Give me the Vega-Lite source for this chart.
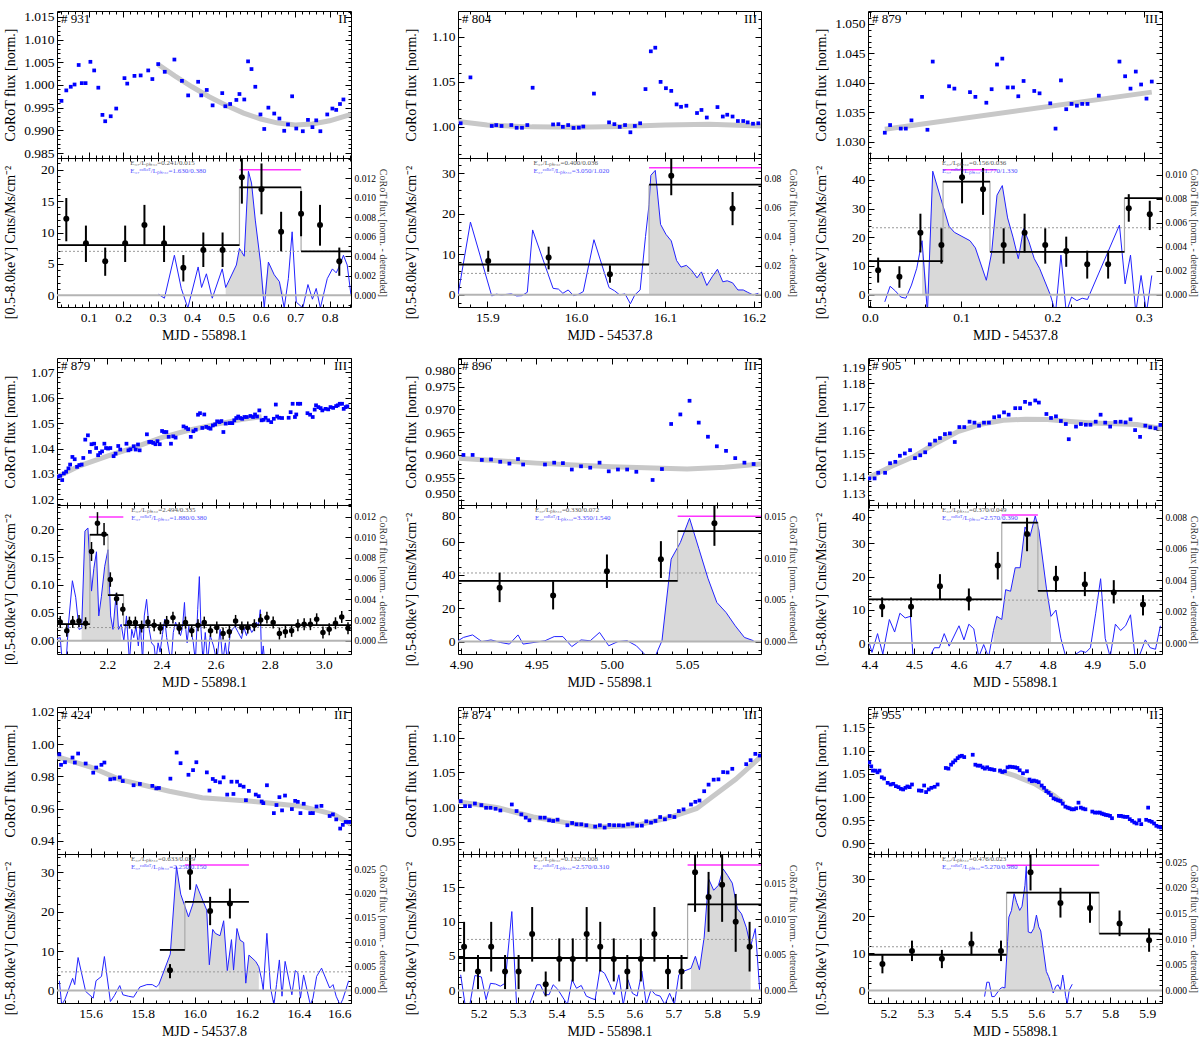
{
"$schema": "https://vega.github.io/schema/vega-lite/v6.json",
"background": "white",
"padding": {"left": 2, "top": 9, "right": 0, "bottom": 0},
"config": {
 "font": "Liberation Serif",
 "view": {"stroke": "black", "strokeWidth": 1},
 "axis": {"labelFont": "Liberation Serif", "titleFont": "Liberation Serif", "labelFontSize": 13.5, "titleFontSize": 14, "titleFontWeight": "normal", "labelColor": "black", "titleColor": "black", "tickColor": "black", "domain": false, "grid": false, "tickSize": 6, "offset": -6, "labelPadding": 3, "labelOverlap": false},
 "text": {"font": "Liberation Serif"}
},
"datasets": {
 "m1": [{"id": "# 931", "cls": "II", "dot": 7.0, "mx": 0.538, "mx2": 0.717, "my": 20.0, "a1": "E₃₇/Lₚₖ,₃₂=0.241/0.015", "a2": "E₃₇ᶜᵒᴿᵒᵀ/Lₚₖ,₃₂=1.630/0.380"}],
 "m2": [{"id": "# 804", "cls": "III", "dot": 5.3, "mx": 16.082, "mx2": 16.208, "my": 31.4, "a1": "E₃₇/Lₚₖ,₃₂=0.400/0.036", "a2": "E₃₇ᶜᵒᴿᵒᵀ/Lₚₖ,₃₂=3.050/1.020"}],
 "m3": [{"id": "# 879", "cls": "III", "dot": 23.3, "mx": 0.0802, "mx2": 0.139, "my": 43.5, "a1": "E₃₇/Lₚₖ,₃₂=0.156/0.036", "a2": "E₃₇ᶜᵒᴿᵒᵀ/Lₚₖ,₃₂=1.770/1.330"}],
 "m4": [{"id": "# 879", "cls": "III", "dot": 0.0237, "mx": 2.132, "mx2": 2.259, "my": 0.222, "a1": "E₃₇/Lₚₖ,₃₂=2.494/0.335", "a2": "E₃₇ᶜᵒᴿᵒᵀ/Lₚₖ,₃₂=1.880/0.380"}],
 "m5": [{"id": "# 896", "cls": "III", "dot": 41.2, "mx": 5.0437, "mx2": 5.099, "my": 75.2, "a1": "E₃₇/Lₚₖ,₃₂=0.330/0.072", "a2": "E₃₇ᶜᵒᴿᵒᵀ/Lₚₖ,₃₂=3.350/1.540"}],
 "m6": [{"id": "# 905", "cls": "II", "dot": 12.9, "mx": 4.6968, "mx2": 4.7778, "my": 38.5, "a1": "E₃₇/Lₚₖ,₃₂=0.370/0.049", "a2": "E₃₇ᶜᵒᴿᵒᵀ/Lₚₖ,₃₂=2.570/0.390"}],
 "m7": [{"id": "# 424", "cls": "III", "dot": 4.72, "mx": 15.962, "mx2": 16.208, "my": 31.9, "a1": "E₃₇/Lₚₖ,₃₂=0.633/0.029", "a2": "E₃₇ᶜᵒᴿᵒᵀ/Lₚₖ,₃₂=2.250/0.150"}],
 "m8": [{"id": "# 874", "cls": "III", "dot": 7.4, "mx": 5.7365, "mx2": 5.925, "my": 18.2, "a1": "E₃₇/Lₚₖ,₃₂=0.132/0.008", "a2": "E₃₇ᶜᵒᴿᵒᵀ/Lₚₖ,₃₂=2.570/0.310"}],
 "m9": [{"id": "# 955", "cls": "II", "dot": 11.75, "mx": 5.5197, "mx2": 5.7702, "my": 33.7, "a1": "E₃₇/Lₚₖ,₃₂=0.476/0.023", "a2": "E₃₇ᶜᵒᴿᵒᵀ/Lₚₖ,₃₂=5.270/0.980"}],

 "f1": [{"x":0.021,"y":0.9965},{"x":0.035,"y":0.9988},{"x":0.048,"y":0.9996},{"x":0.059,"y":1.0001},{"x":0.071,"y":1.0044},{"x":0.080,"y":1.0004},{"x":0.091,"y":1.0004},{"x":0.105,"y":1.0051},{"x":0.116,"y":1.0032},{"x":0.128,"y":0.9994},{"x":0.140,"y":0.9934},{"x":0.148,"y":0.9920},{"x":0.164,"y":0.9931},{"x":0.180,"y":0.9948},{"x":0.204,"y":1.0015},{"x":0.212,"y":1.0003},{"x":0.233,"y":1.0020},{"x":0.251,"y":1.0021},{"x":0.273,"y":1.0032},{"x":0.285,"y":1.0013},{"x":0.302,"y":1.0046},{"x":0.321,"y":1.0029},{"x":0.349,"y":1.0056},{"x":0.371,"y":1.0009},{"x":0.389,"y":0.9977},{"x":0.418,"y":1.0007},{"x":0.427,"y":0.9977},{"x":0.443,"y":0.9989},{"x":0.460,"y":0.9955},{"x":0.488,"y":0.9982},{"x":0.497,"y":0.9953},{"x":0.511,"y":0.9958},{"x":0.529,"y":0.9967},{"x":0.538,"y":0.9980},{"x":0.552,"y":0.9968},{"x":0.563,"y":1.0052},{"x":0.573,"y":1.0035},{"x":0.584,"y":0.9996},{"x":0.599,"y":0.9935},{"x":0.610,"y":0.9903},{"x":0.622,"y":0.9950},{"x":0.639,"y":0.9937},{"x":0.654,"y":0.9926},{"x":0.668,"y":0.9899},{"x":0.679,"y":0.9913},{"x":0.691,"y":0.9975},{"x":0.703,"y":0.9904},{"x":0.722,"y":0.9898},{"x":0.737,"y":0.9923},{"x":0.750,"y":0.9907},{"x":0.761,"y":0.9922},{"x":0.773,"y":0.9898},{"x":0.793,"y":0.9935},{"x":0.808,"y":0.9948},{"x":0.819,"y":0.9945},{"x":0.830,"y":0.9958},{"x":0.840,"y":0.9968}],
 "t1": [{"x":0.302,"y":1.0045},{"x":0.35,"y":1.0020},{"x":0.40,"y":0.9996},{"x":0.45,"y":0.9974},{"x":0.50,"y":0.9955},{"x":0.55,"y":0.9938},{"x":0.60,"y":0.9925},{"x":0.65,"y":0.9916},{"x":0.70,"y":0.9912},{"x":0.75,"y":0.9914},{"x":0.80,"y":0.9921},{"x":0.862,"y":0.9935}],
 "e1": [{"x":0.035,"y":12.2,"lo":8.6,"hi":15.5},{"x":0.092,"y":8.3,"lo":5.3,"hi":11.1},{"x":0.148,"y":5.4,"lo":3.1,"hi":7.6},{"x":0.206,"y":8.3,"lo":5.3,"hi":11.1},{"x":0.262,"y":11.2,"lo":7.9,"hi":14.4},{"x":0.319,"y":8.3,"lo":5.3,"hi":11.1},{"x":0.375,"y":4.4,"lo":2.2,"hi":6.4},{"x":0.433,"y":7.2,"lo":4.5,"hi":10.0},{"x":0.489,"y":7.2,"lo":4.5,"hi":10.0},{"x":0.545,"y":18.8,"lo":14.6,"hi":21.9},{"x":0.602,"y":16.9,"lo":12.9,"hi":21.0},{"x":0.659,"y":10.1,"lo":7.0,"hi":13.3},{"x":0.717,"y":13.0,"lo":9.4,"hi":16.6},{"x":0.772,"y":11.2,"lo":7.9,"hi":14.4},{"x":0.828,"y":5.4,"lo":3.1,"hi":7.6}],
 "b1": [{"x":0.008,"x2":0.538,"y":8.0},{"x":0.538,"x2":0.717,"y":17.2},{"x":0.717,"x2":0.862,"y":7.0}],
 "c1": [{"x":0.303,"v":0.0001},{"x":0.320,"v":-0.0003},{"x":0.349,"v":0.0041},{"x":0.369,"v":0.0007},{"x":0.388,"v":-0.0013},{"x":0.418,"v":0.0029},{"x":0.428,"v":0.0008},{"x":0.442,"v":0.0022},{"x":0.459,"v":-0.0003},{"x":0.488,"v":0.0027},{"x":0.498,"v":0.0008,"f":0.0008},{"x":0.529,"v":0.0031,"f":0.0031},{"x":0.538,"v":0.0048,"f":0.0048},{"x":0.552,"v":0.0040,"f":0.0040},{"x":0.564,"v":0.0127,"f":0.0127},{"x":0.573,"v":0.0115,"f":0.0115},{"x":0.584,"v":0.0077,"f":0.0077},{"x":0.599,"v":0.0034,"f":0.0034},{"x":0.610,"v":-0.0013,"f":0},{"x":0.622,"v":0.0034,"f":0.0034},{"x":0.639,"v":0.0021,"f":0.0021},{"x":0.654,"v":0.0014,"f":0.0014},{"x":0.668,"v":-0.0013,"f":0},{"x":0.680,"v":0.0017},{"x":0.691,"v":0.0065},{"x":0.703,"v":-0.0007},{"x":0.722,"v":-0.0013},{"x":0.737,"v":0.0011},{"x":0.750,"v":-0.0004},{"x":0.761,"v":0.0007},{"x":0.773,"v":-0.0013},{"x":0.793,"v":0.0017},{"x":0.808,"v":0.0027},{"x":0.819,"v":0.0023},{"x":0.830,"v":0.0031},{"x":0.840,"v":0.0041},{"x":0.851,"v":0.0031},{"x":0.862,"v":0.0}],

 "f2": [{"x":15.870,"y":1.004},{"x":15.881,"y":1.055},{"x":15.905,"y":1.001},{"x":15.910,"y":1.002},{"x":15.916,"y":1.001},{"x":15.927,"y":1.002},{"x":15.933,"y":0.999},{"x":15.939,"y":0.999},{"x":15.945,"y":1.002},{"x":15.951,"y":1.0435},{"x":15.974,"y":1.0027},{"x":15.980,"y":1.003},{"x":15.985,"y":1.000},{"x":15.991,"y":1.002},{"x":15.997,"y":0.9988},{"x":16.003,"y":0.9992},{"x":16.008,"y":1.0004},{"x":16.020,"y":1.037},{"x":16.037,"y":1.005},{"x":16.043,"y":1.003},{"x":16.049,"y":1.000},{"x":16.055,"y":1.002},{"x":16.061,"y":0.994},{"x":16.066,"y":1.001},{"x":16.072,"y":1.004},{"x":16.078,"y":1.042},{"x":16.084,"y":1.084},{"x":16.089,"y":1.088},{"x":16.095,"y":1.050},{"x":16.101,"y":1.043},{"x":16.107,"y":1.040},{"x":16.113,"y":1.025},{"x":16.118,"y":1.0223},{"x":16.124,"y":1.0235},{"x":16.136,"y":1.0154},{"x":16.141,"y":1.0188},{"x":16.147,"y":1.0104},{"x":16.159,"y":1.022},{"x":16.165,"y":1.0115},{"x":16.170,"y":1.0135},{"x":16.176,"y":1.0115},{"x":16.182,"y":1.0065},{"x":16.188,"y":1.0065},{"x":16.193,"y":1.005},{"x":16.199,"y":1.0035},{"x":16.205,"y":1.004}],
 "t2": [{"x":15.867,"y":1.006},{"x":15.90,"y":1.002},{"x":15.95,"y":1.0},{"x":16.0,"y":0.9995},{"x":16.05,"y":1.0005},{"x":16.1,"y":1.002},{"x":16.15,"y":1.003},{"x":16.208,"y":1.001}],
 "e2": [{"x":15.901,"y":8.35,"lo":5.7,"hi":10.9},{"x":15.969,"y":9.2,"lo":6.3,"hi":11.9},{"x":16.038,"y":5.1,"lo":3.0,"hi":7.3},{"x":16.107,"y":29.4,"lo":24.6,"hi":33.8},{"x":16.176,"y":21.3,"lo":17.2,"hi":25.4}],
 "b2": [{"x":15.867,"x2":16.082,"y":7.5},{"x":16.082,"x2":16.208,"y":27.2}],
 "c2": [{"x":15.867,"v":0},{"x":15.881,"v":0.050},{"x":15.905,"v":-0.0007},{"x":15.910,"v":0.0005},{"x":15.916,"v":0},{"x":15.927,"v":0.0007},{"x":15.933,"v":-0.0007},{"x":15.939,"v":-0.0005},{"x":15.945,"v":0.0018},{"x":15.951,"v":0.0446},{"x":15.974,"v":0.0045},{"x":15.980,"v":0.004},{"x":15.985,"v":0.0011},{"x":15.991,"v":0.0034},{"x":15.997,"v":-0.0005},{"x":16.003,"v":0.0005},{"x":16.008,"v":0.0023},{"x":16.020,"v":0.0379},{"x":16.037,"v":0.005},{"x":16.043,"v":0.0029},{"x":16.049,"v":0},{"x":16.055,"v":0.0007},{"x":16.061,"v":-0.0061},{"x":16.066,"v":0},{"x":16.072,"v":0.0034},{"x":16.078,"v":0.040},{"x":16.082,"v":0.062,"f":0.062},{"x":16.084,"v":0.0821,"f":0.0821},{"x":16.089,"v":0.0855,"f":0.0855},{"x":16.095,"v":0.0484,"f":0.0484},{"x":16.101,"v":0.0416,"f":0.0416},{"x":16.107,"v":0.0371,"f":0.0371},{"x":16.113,"v":0.0236,"f":0.0236},{"x":16.118,"v":0.0191,"f":0.0191},{"x":16.124,"v":0.0203,"f":0.0203},{"x":16.130,"v":0.0169,"f":0.0169},{"x":16.136,"v":0.0117,"f":0.0117},{"x":16.141,"v":0.0158,"f":0.0158},{"x":16.147,"v":0.0065,"f":0.0065},{"x":16.153,"v":0.0124,"f":0.0124},{"x":16.159,"v":0.0176,"f":0.0176},{"x":16.165,"v":0.009,"f":0.009},{"x":16.170,"v":0.0097,"f":0.0097},{"x":16.176,"v":0.0083,"f":0.0083},{"x":16.182,"v":0.0034,"f":0.0034},{"x":16.188,"v":0.0034,"f":0.0034},{"x":16.193,"v":0.0018,"f":0.0018},{"x":16.199,"v":0,"f":0},{"x":16.205,"v":0.0011,"f":0.0011}],

 "f3": [{"x":0.0164,"y":1.0315},{"x":0.0222,"y":1.0328},{"x":0.0339,"y":1.0322},{"x":0.0394,"y":1.0322},{"x":0.0456,"y":1.0336},{"x":0.0572,"y":1.0376},{"x":0.0631,"y":1.0320},{"x":0.0689,"y":1.0436},{"x":0.0868,"y":1.0394},{"x":0.0926,"y":1.0390},{"x":0.1097,"y":1.0384},{"x":0.1156,"y":1.0376},{"x":0.1276,"y":1.0366},{"x":0.1334,"y":1.0389},{"x":0.1393,"y":1.0431},{"x":0.1451,"y":1.0441},{"x":0.1509,"y":1.0392},{"x":0.1568,"y":1.0392},{"x":0.1626,"y":1.0377},{"x":0.1684,"y":1.0403},{"x":0.1801,"y":1.0386},{"x":0.1859,"y":1.0382},{"x":0.1976,"y":1.0365},{"x":0.2034,"y":1.0322},{"x":0.2093,"y":1.0404},{"x":0.2151,"y":1.0355},{"x":0.2209,"y":1.0364},{"x":0.2268,"y":1.0361},{"x":0.2326,"y":1.0364},{"x":0.2384,"y":1.0364},{"x":0.2508,"y":1.0378},{"x":0.2734,"y":1.0436},{"x":0.2796,"y":1.0411},{"x":0.2855,"y":1.0390},{"x":0.2913,"y":1.0419},{"x":0.2971,"y":1.0397},{"x":0.3030,"y":1.0373},{"x":0.3088,"y":1.0402}],
 "t3": [{"x":0.0164,"y":1.0321},{"x":0.3088,"y":1.0384}],
 "e3": [{"x":0.0091,"y":8.5,"lo":4.2,"hi":12.9},{"x":0.0324,"y":6.2,"lo":2.4,"hi":9.9},{"x":0.0554,"y":21.6,"lo":14.7,"hi":28.2},{"x":0.0784,"y":17.3,"lo":10.8,"hi":23.1},{"x":0.1010,"y":40.9,"lo":31.8,"hi":47.6},{"x":0.1240,"y":36.7,"lo":27.8,"hi":44.1},{"x":0.1466,"y":17.3,"lo":10.8,"hi":23.1},{"x":0.1695,"y":21.6,"lo":14.7,"hi":28.2},{"x":0.1921,"y":17.3,"lo":10.8,"hi":23.1},{"x":0.2151,"y":15.2,"lo":9.7,"hi":20.2},{"x":0.2381,"y":10.6,"lo":5.6,"hi":15.3},{"x":0.2610,"y":10.6,"lo":5.6,"hi":15.3},{"x":0.2836,"y":30.1,"lo":25.4,"hi":35.0},{"x":0.3066,"y":28.0,"lo":22.5,"hi":32.7}],
 "b3": [{"x":-0.002,"x2":0.0802,"y":11.7},{"x":0.0802,"x2":0.1316,"y":39.4},{"x":0.1316,"x2":0.2789,"y":14.9},{"x":0.2789,"x2":0.320,"y":33.6}],
 "c3": [{"x":0.0164,"v":-0.0006},{"x":0.0222,"v":0.0007},{"x":0.0281,"v":0.0003},{"x":0.0339,"v":-0.0002},{"x":0.0394,"v":-0.0003},{"x":0.0456,"v":0.0008},{"x":0.0514,"v":0.0022},{"x":0.0572,"v":0.0045,"f":0.0045},{"x":0.0631,"v":-0.0015,"f":0},{"x":0.0689,"v":0.0103,"f":0.0103},{"x":0.0868,"v":0.0057,"f":0.0057},{"x":0.0926,"v":0.0052,"f":0.0052},{"x":0.1097,"v":0.0045,"f":0.0045},{"x":0.1156,"v":0.0039,"f":0.0039},{"x":0.1276,"v":0.0012,"f":0.0012},{"x":0.1334,"v":0.0035,"f":0.0035},{"x":0.1393,"v":0.0083,"f":0.0083},{"x":0.1451,"v":0.0091,"f":0.0091},{"x":0.1509,"v":0.0064,"f":0.0064},{"x":0.1568,"v":0.0048,"f":0.0048},{"x":0.1626,"v":0.0030,"f":0.0030},{"x":0.1684,"v":0.0055,"f":0.0055},{"x":0.1743,"v":0.0044,"f":0.0044},{"x":0.1801,"v":0.0030,"f":0.0030},{"x":0.1859,"v":0.0022,"f":0.0022},{"x":0.1976,"v":0.0,"f":0},{"x":0.2034,"v":-0.0015},{"x":0.2093,"v":0.0033},{"x":0.2151,"v":-0.0015},{"x":0.2209,"v":-0.0002},{"x":0.2268,"v":-0.0005},{"x":0.2326,"v":-0.0003},{"x":0.2384,"v":-0.0004},{"x":0.2508,"v":0.0018},{"x":0.2734,"v":0.0058},{"x":0.2796,"v":0.0009},{"x":0.2855,"v":0.0033},{"x":0.2913,"v":-0.0015},{"x":0.2971,"v":0.0016},{"x":0.3030,"v":-0.0015},{"x":0.3088,"v":0.0016}],

 "f4": [{"x":2.0173,"y":1.0289},{"x":2.0259,"y":1.0293},{"x":2.0332,"y":1.0276},{"x":2.0393,"y":1.0302},{"x":2.0478,"y":1.0309},{"x":2.0563,"y":1.0322},{"x":2.0624,"y":1.0337},{"x":2.0709,"y":1.0367},{"x":2.0794,"y":1.0358},{"x":2.0880,"y":1.0328},{"x":2.0965,"y":1.0335},{"x":2.1050,"y":1.0337},{"x":2.1111,"y":1.0363},{"x":2.1184,"y":1.0435},{"x":2.1282,"y":1.0452},{"x":2.1355,"y":1.0387},{"x":2.1415,"y":1.0417},{"x":2.1513,"y":1.0419},{"x":2.1586,"y":1.0402},{"x":2.1659,"y":1.0374},{"x":2.1732,"y":1.0383},{"x":2.1805,"y":1.0389},{"x":2.1890,"y":1.0419},{"x":2.1951,"y":1.0402},{"x":2.2024,"y":1.0400},{"x":2.2110,"y":1.0402},{"x":2.2231,"y":1.0370},{"x":2.2304,"y":1.0380},{"x":2.2402,"y":1.0410},{"x":2.2475,"y":1.0396},{"x":2.2706,"y":1.0419},{"x":2.2779,"y":1.0393},{"x":2.2852,"y":1.0397},{"x":2.2974,"y":1.0409},{"x":2.3047,"y":1.0396},{"x":2.3132,"y":1.0416},{"x":2.3193,"y":1.0393},{"x":2.3461,"y":1.0456},{"x":2.3547,"y":1.0426},{"x":2.3620,"y":1.0426},{"x":2.3693,"y":1.0422},{"x":2.3778,"y":1.0417},{"x":2.3851,"y":1.0429},{"x":2.3936,"y":1.0417},{"x":2.4021,"y":1.0469},{"x":2.4094,"y":1.0465},{"x":2.4180,"y":1.0465},{"x":2.4265,"y":1.0446},{"x":2.4350,"y":1.0419},{"x":2.4435,"y":1.0448},{"x":2.4521,"y":1.0443},{"x":2.4813,"y":1.0487},{"x":2.4910,"y":1.0482},{"x":2.4983,"y":1.0476},{"x":2.5081,"y":1.0446},{"x":2.5178,"y":1.0468},{"x":2.5264,"y":1.0474},{"x":2.5349,"y":1.0533},{"x":2.5422,"y":1.0539},{"x":2.5507,"y":1.0481},{"x":2.5580,"y":1.0534},{"x":2.5653,"y":1.0485},{"x":2.5738,"y":1.0481},{"x":2.5811,"y":1.0478},{"x":2.5897,"y":1.0491},{"x":2.5982,"y":1.0495},{"x":2.6055,"y":1.0507},{"x":2.6140,"y":1.0504},{"x":2.6213,"y":1.0508},{"x":2.6286,"y":1.0465},{"x":2.6372,"y":1.0498},{"x":2.6518,"y":1.0500},{"x":2.6615,"y":1.0500},{"x":2.6688,"y":1.0511},{"x":2.6761,"y":1.0520},{"x":2.6834,"y":1.0526},{"x":2.6907,"y":1.0520},{"x":2.6981,"y":1.0517},{"x":2.7066,"y":1.0524},{"x":2.7151,"y":1.0524},{"x":2.7285,"y":1.0528},{"x":2.7382,"y":1.0524},{"x":2.7455,"y":1.0534},{"x":2.7529,"y":1.0526},{"x":2.7614,"y":1.0550},{"x":2.7699,"y":1.0511},{"x":2.7772,"y":1.0513},{"x":2.7845,"y":1.0521},{"x":2.7942,"y":1.0511},{"x":2.8052,"y":1.0504},{"x":2.8149,"y":1.0517},{"x":2.8223,"y":1.0573},{"x":2.8271,"y":1.0526},{"x":2.8344,"y":1.0521},{"x":2.8454,"y":1.0520},{"x":2.8697,"y":1.0521},{"x":2.8770,"y":1.0543},{"x":2.8844,"y":1.0576},{"x":2.8929,"y":1.0524},{"x":2.8978,"y":1.0534},{"x":2.9038,"y":1.0576},{"x":2.9124,"y":1.0576},{"x":2.9392,"y":1.0539},{"x":2.9489,"y":1.0533},{"x":2.9586,"y":1.0524},{"x":2.9659,"y":1.0553},{"x":2.9708,"y":1.0570},{"x":2.9793,"y":1.0563},{"x":2.9879,"y":1.0559},{"x":2.9940,"y":1.0550},{"x":3.0061,"y":1.0556},{"x":3.0159,"y":1.0554},{"x":3.0244,"y":1.0563},{"x":3.0341,"y":1.0560},{"x":3.0451,"y":1.0567},{"x":3.0512,"y":1.0570},{"x":3.0585,"y":1.0576},{"x":3.0670,"y":1.0576},{"x":3.0731,"y":1.0556},{"x":3.0804,"y":1.0563},{"x":3.0865,"y":1.0566}],
 "t4": [{"x":2.017,"y":1.029},{"x":2.1,"y":1.0333},{"x":2.2,"y":1.037},{"x":2.3,"y":1.0405},{"x":2.4,"y":1.0443},{"x":2.5,"y":1.0472},{"x":2.6,"y":1.0495},{"x":2.7,"y":1.0515},{"x":2.77,"y":1.0525}],
 "e4": [{"x":2.0259,"y":0.0338,"lo":0.0231,"hi":0.0445},{"x":2.0502,"y":0.0178,"lo":0.0071,"hi":0.0285},{"x":2.0721,"y":0.0338,"lo":0.0231,"hi":0.0445},{"x":2.0953,"y":0.0356,"lo":0.0249,"hi":0.0463},{"x":2.1196,"y":0.0314,"lo":0.0207,"hi":0.0421},{"x":2.1415,"y":0.160,"lo":0.143,"hi":0.177},{"x":2.1635,"y":0.2105,"lo":0.1905,"hi":0.2305},{"x":2.1878,"y":0.191,"lo":0.171,"hi":0.211},{"x":2.2110,"y":0.1097,"lo":0.0967,"hi":0.1227},{"x":2.2341,"y":0.0753,"lo":0.0643,"hi":0.0863},{"x":2.2572,"y":0.0563,"lo":0.0453,"hi":0.0673},{"x":2.2816,"y":0.0326,"lo":0.0219,"hi":0.0433},{"x":2.3035,"y":0.0326,"lo":0.0219,"hi":0.0433},{"x":2.3266,"y":0.0255,"lo":0.0148,"hi":0.0362},{"x":2.3498,"y":0.0338,"lo":0.0231,"hi":0.0445},{"x":2.3729,"y":0.0279,"lo":0.0172,"hi":0.0386},{"x":2.3961,"y":0.0225,"lo":0.0118,"hi":0.0332},{"x":2.4192,"y":0.0338,"lo":0.0231,"hi":0.0445},{"x":2.4423,"y":0.0415,"lo":0.0308,"hi":0.0522},{"x":2.4655,"y":0.0225,"lo":0.0118,"hi":0.0332},{"x":2.4886,"y":0.0326,"lo":0.0219,"hi":0.0433},{"x":2.5117,"y":0.0178,"lo":0.0071,"hi":0.0285},{"x":2.5349,"y":0.0279,"lo":0.0172,"hi":0.0386},{"x":2.5580,"y":0.0326,"lo":0.0219,"hi":0.0433},{"x":2.5811,"y":0.0178,"lo":0.0071,"hi":0.0285},{"x":2.6043,"y":0.0237,"lo":0.013,"hi":0.0344},{"x":2.6274,"y":0.0130,"lo":0.0023,"hi":0.0237},{"x":2.6506,"y":0.0160,"lo":0.0053,"hi":0.0267},{"x":2.6737,"y":0.0356,"lo":0.0249,"hi":0.0463},{"x":2.6968,"y":0.0237,"lo":0.013,"hi":0.0344},{"x":2.7187,"y":0.0237,"lo":0.013,"hi":0.0344},{"x":2.7431,"y":0.0279,"lo":0.0172,"hi":0.0386},{"x":2.7662,"y":0.0374,"lo":0.0267,"hi":0.0481},{"x":2.7894,"y":0.0415,"lo":0.0308,"hi":0.0522},{"x":2.8125,"y":0.0326,"lo":0.0219,"hi":0.0433},{"x":2.8356,"y":0.0130,"lo":0.0023,"hi":0.0237},{"x":2.8576,"y":0.0160,"lo":0.0053,"hi":0.0267},{"x":2.8807,"y":0.0178,"lo":0.0071,"hi":0.0285},{"x":2.9038,"y":0.0279,"lo":0.0172,"hi":0.0386},{"x":2.9270,"y":0.0297,"lo":0.019,"hi":0.0404},{"x":2.9501,"y":0.0297,"lo":0.019,"hi":0.0404},{"x":2.9732,"y":0.0385,"lo":0.0278,"hi":0.0492},{"x":2.9964,"y":0.0148,"lo":0.0041,"hi":0.0255},{"x":3.0195,"y":0.0208,"lo":0.0101,"hi":0.0315},{"x":3.0427,"y":0.0314,"lo":0.0207,"hi":0.0421},{"x":3.0658,"y":0.0427,"lo":0.032,"hi":0.0534},{"x":3.0889,"y":0.0225,"lo":0.0118,"hi":0.0332}],
 "b4": [{"x":2.014,"x2":2.1355,"y":0.0297},{"x":2.1355,"x2":2.2024,"y":0.190},{"x":2.2024,"x2":2.2597,"y":0.0818},{"x":2.2597,"x2":3.10,"y":0.0279}],
 "c4": [{"x":2.0137,"v":0.0002},{"x":2.0259,"v":0.0003},{"x":2.0332,"v":-0.002},{"x":2.0478,"v":-0.002},{"x":2.0563,"v":0.0016},{"x":2.0709,"v":0.0058},{"x":2.0831,"v":0.0042},{"x":2.0953,"v":0.0011},{"x":2.1050,"v":0.0012,"f":0.0012},{"x":2.1172,"v":0.0106,"f":0.0106},{"x":2.1282,"v":0.0109,"f":0.0109},{"x":2.1355,"v":0.0075,"f":0.0075},{"x":2.1415,"v":0.0048,"f":0.0048},{"x":2.1501,"v":0.0070,"f":0.0070},{"x":2.1598,"v":0.0086,"f":0.0086},{"x":2.1683,"v":0.0024,"f":0.0024},{"x":2.1781,"v":0.0043,"f":0.0043},{"x":2.1903,"v":0.0072,"f":0.0072},{"x":2.2024,"v":0.0088,"f":0.0088},{"x":2.2122,"v":0.0024,"f":0.0024},{"x":2.2207,"v":0.0011,"f":0.0011},{"x":2.2329,"v":0.0046,"f":0.0046},{"x":2.2414,"v":0.0011,"f":0.0011},{"x":2.2511,"v":0.0016,"f":0.0016},{"x":2.2609,"v":0.0},{"x":2.2706,"v":0.0024},{"x":2.2816,"v":-0.002},{"x":2.2901,"v":0.0011},{"x":2.2974,"v":0.0003},{"x":2.3059,"v":0.0014},{"x":2.3145,"v":-0.0005},{"x":2.3218,"v":0.0016},{"x":2.3303,"v":-0.002},{"x":2.3364,"v":0.0024},{"x":2.3449,"v":0.004},{"x":2.3547,"v":0.0011},{"x":2.3632,"v":-0.0002},{"x":2.3729,"v":-0.0005},{"x":2.3790,"v":-0.002},{"x":2.3875,"v":-0.0002},{"x":2.3948,"v":-0.0011},{"x":2.4034,"v":0.0006},{"x":2.4119,"v":0.0021},{"x":2.4192,"v":0.0003},{"x":2.4277,"v":-0.001},{"x":2.4362,"v":-0.002},{"x":2.4435,"v":0.0008},{"x":2.4521,"v":0.0018},{"x":2.4606,"v":0.0011},{"x":2.4703,"v":0.0005},{"x":2.4776,"v":0.0013},{"x":2.4849,"v":0.0037},{"x":2.4898,"v":0.0011},{"x":2.4947,"v":-0.0002},{"x":2.5008,"v":0.0014},{"x":2.5069,"v":0.0011},{"x":2.5166,"v":0},{"x":2.5252,"v":-0.002},{"x":2.5337,"v":0.003},{"x":2.5398,"v":0.0062},{"x":2.5459,"v":0.0011},{"x":2.5532,"v":-0.002},{"x":2.5617,"v":0.0008},{"x":2.5702,"v":-0.002},{"x":2.5799,"v":0.0005},{"x":2.5921,"v":-0.0005},{"x":2.6043,"v":-0.002},{"x":2.6165,"v":0.0011},{"x":2.6262,"v":-0.002},{"x":2.6359,"v":-0.0002},{"x":2.6432,"v":-0.002},{"x":2.6530,"v":0.0005},{"x":2.6615,"v":0.0011},{"x":2.6713,"v":0.0014},{"x":2.6834,"v":0.0008},{"x":2.6956,"v":0.0002},{"x":2.7041,"v":0.0013},{"x":2.7139,"v":0.0005},{"x":2.7236,"v":0.0014},{"x":2.7334,"v":0.0008},{"x":2.7407,"v":0.0011},{"x":2.7504,"v":0.0018},{"x":2.7577,"v":0.0014},{"x":2.7650,"v":0.003},{"x":2.7699,"v":-0.002},{"x":2.7760,"v":-0.0005},{"x":2.7809,"v":-0.002}],

 "f5": [{"x":4.9016,"y":0.960},{"x":4.9077,"y":0.960},{"x":4.9138,"y":0.9589},{"x":4.9199,"y":0.9590},{"x":4.9260,"y":0.9585},{"x":4.9321,"y":0.9581},{"x":4.9378,"y":0.9591},{"x":4.9412,"y":0.9579},{"x":4.9557,"y":0.9579},{"x":4.9618,"y":0.9583},{"x":4.9676,"y":0.9582},{"x":4.9735,"y":0.9568},{"x":4.9796,"y":0.9575},{"x":4.9857,"y":0.9572},{"x":4.9919,"y":0.9583},{"x":4.9980,"y":0.9564},{"x":5.0041,"y":0.9568},{"x":5.0102,"y":0.9568},{"x":5.0163,"y":0.9563},{"x":5.0271,"y":0.9545},{"x":5.0333,"y":0.9569},{"x":5.0394,"y":0.9668},{"x":5.0455,"y":0.9689},{"x":5.0516,"y":0.9719},{"x":5.0577,"y":0.9671},{"x":5.0638,"y":0.9640},{"x":5.0697,"y":0.9619},{"x":5.0758,"y":0.9609},{"x":5.0819,"y":0.9593},{"x":5.0880,"y":0.9583},{"x":5.0941,"y":0.9580}],
 "t5": [{"x":4.898,"y":0.9593},{"x":4.95,"y":0.9582},{"x":5.0,"y":0.9574},{"x":5.05,"y":0.9569},{"x":5.075,"y":0.9573},{"x":5.099,"y":0.9580}],
 "e5": [{"x":4.9256,"y":32.4,"lo":23.7,"hi":41.4},{"x":4.9611,"y":27.7,"lo":19.3,"hi":36.2},{"x":4.9968,"y":42.2,"lo":32.2,"hi":52.3},{"x":5.0326,"y":49.4,"lo":38.2,"hi":60.3},{"x":5.0681,"y":71.0,"lo":57.5,"hi":81.6}],
 "b5": [{"x":4.898,"x2":5.0437,"y":36.4},{"x":5.0437,"x2":5.099,"y":66.3}],
 "c5": [{"x":4.898,"v":0.0001},{"x":4.9016,"v":0.0005},{"x":4.9077,"v":0.0008},{"x":4.9138,"v":0.0},{"x":4.9199,"v":0.0002},{"x":4.9260,"v":-0.0001},{"x":4.9321,"v":-0.0003},{"x":4.9378,"v":0.0008},{"x":4.9412,"v":-0.0003},{"x":4.9557,"v":0.0001},{"x":4.9618,"v":0.0006},{"x":4.9676,"v":0.0006},{"x":4.9735,"v":-0.0006},{"x":4.9796,"v":0.0002},{"x":4.9857,"v":0.0001},{"x":4.9919,"v":0.0011},{"x":4.9980,"v":-0.0005},{"x":5.0041,"v":0.0},{"x":5.0102,"v":0.0001},{"x":5.0163,"v":-0.0005},{"x":5.0271,"v":-0.0025,"f":0},{"x":5.0333,"v":0.0001,"f":0.0001},{"x":5.0394,"v":0.0099,"f":0.0099},{"x":5.0455,"v":0.0119,"f":0.0119},{"x":5.0516,"v":0.0148,"f":0.0148},{"x":5.0577,"v":0.0112,"f":0.0112},{"x":5.0638,"v":0.0076,"f":0.0076},{"x":5.0697,"v":0.0047,"f":0.0047},{"x":5.0758,"v":0.0035,"f":0.0035},{"x":5.0819,"v":0.0019,"f":0.0019},{"x":5.0880,"v":0.0005,"f":0.0005},{"x":5.0941,"v":0.0001,"f":0.0001}],

 "f6": [{"x":4.400,"y":1.1393},{"x":4.4118,"y":1.1393},{"x":4.4199,"y":1.1417},{"x":4.4353,"y":1.1417},{"x":4.4464,"y":1.1458},{"x":4.4582,"y":1.1464},{"x":4.4685,"y":1.1490},{"x":4.4795,"y":1.1500},{"x":4.4913,"y":1.1514},{"x":4.5024,"y":1.1480},{"x":4.5141,"y":1.1492},{"x":4.5252,"y":1.1505},{"x":4.5355,"y":1.1539},{"x":4.5473,"y":1.1555},{"x":4.5583,"y":1.1566},{"x":4.5694,"y":1.1583},{"x":4.5804,"y":1.1586},{"x":4.5915,"y":1.1549},{"x":4.6018,"y":1.1613},{"x":4.6128,"y":1.1613},{"x":4.6246,"y":1.1636},{"x":4.6356,"y":1.1632},{"x":4.6459,"y":1.1619},{"x":4.6570,"y":1.1632},{"x":4.6680,"y":1.1632},{"x":4.6798,"y":1.1655},{"x":4.6909,"y":1.1659},{"x":4.7019,"y":1.1676},{"x":4.7122,"y":1.1666},{"x":4.7270,"y":1.1694},{"x":4.7380,"y":1.1694},{"x":4.7490,"y":1.1721},{"x":4.7601,"y":1.1713},{"x":4.7719,"y":1.1727},{"x":4.7800,"y":1.1718},{"x":4.7969,"y":1.1669},{"x":4.8072,"y":1.1652},{"x":4.8183,"y":1.1659},{"x":4.8293,"y":1.1639},{"x":4.8404,"y":1.1626},{"x":4.8470,"y":1.1561},{"x":4.8632,"y":1.1615},{"x":4.8742,"y":1.1626},{"x":4.8853,"y":1.1623},{"x":4.8956,"y":1.1623},{"x":4.9074,"y":1.1636},{"x":4.9184,"y":1.1666},{"x":4.9287,"y":1.1632},{"x":4.9398,"y":1.1615},{"x":4.9515,"y":1.1635},{"x":4.9633,"y":1.1636},{"x":4.9744,"y":1.1633},{"x":4.9854,"y":1.1646},{"x":4.9957,"y":1.1600},{"x":5.0068,"y":1.1571},{"x":5.0186,"y":1.1619},{"x":5.0296,"y":1.1612},{"x":5.0414,"y":1.1608},{"x":5.0524,"y":1.1622}],
 "t6": [{"x":4.397,"y":1.1395},{"x":4.45,"y":1.1445},{"x":4.5,"y":1.1487},{"x":4.55,"y":1.1545},{"x":4.6,"y":1.1595},{"x":4.65,"y":1.1625},{"x":4.7,"y":1.1642},{"x":4.75,"y":1.1647},{"x":4.8,"y":1.1645},{"x":4.85,"y":1.1637},{"x":4.9,"y":1.1630},{"x":4.95,"y":1.1627},{"x":5.0,"y":1.1624},{"x":5.056,"y":1.1607}],
 "e6": [{"x":4.4287,"y":10.9,"lo":7.8,"hi":13.7},{"x":4.4935,"y":10.9,"lo":7.8,"hi":13.7},{"x":4.5583,"y":17.1,"lo":13.2,"hi":20.7},{"x":4.6231,"y":13.2,"lo":9.8,"hi":16.4},{"x":4.6879,"y":23.3,"lo":19.1,"hi":27.4},{"x":4.7535,"y":32.8,"lo":27.6,"hi":37.7},{"x":4.8183,"y":19.4,"lo":15.4,"hi":23.2},{"x":4.8831,"y":17.7,"lo":14.1,"hi":21.4},{"x":4.9479,"y":15.2,"lo":11.9,"hi":18.9},{"x":5.0134,"y":11.6,"lo":8.3,"hi":14.4}],
 "b6": [{"x":4.397,"x2":4.6968,"y":13.1},{"x":4.6968,"x2":4.7778,"y":36.2},{"x":4.7778,"x2":5.056,"y":15.7}],
 "c6": [{"x":4.400,"v":0.0},{"x":4.4059,"v":-0.0006},{"x":4.4184,"v":0.0006},{"x":4.4302,"v":-0.0007},{"x":4.4449,"v":0.0015},{"x":4.4567,"v":0.0007},{"x":4.4685,"v":0.0019},{"x":4.4803,"v":0.0016},{"x":4.4920,"v":0.0017},{"x":4.4979,"v":-0.0009},{"x":4.5348,"v":-0.0009},{"x":4.5458,"v":-0.0003},{"x":4.5568,"v":-0.0003},{"x":4.5679,"v":0.0006},{"x":4.5789,"v":-0.0002},{"x":4.6010,"v":0.0011},{"x":4.6121,"v":0.0002},{"x":4.6231,"v":0.0012},{"x":4.6342,"v":0.0009},{"x":4.6452,"v":-0.0009},{"x":4.6563,"v":-0.0001},{"x":4.6673,"v":-0.0009},{"x":4.6783,"v":0.0008,"f":0.0008},{"x":4.6857,"v":0.0017,"f":0.0017},{"x":4.6968,"v":0.0015,"f":0.0015},{"x":4.7056,"v":0.0034,"f":0.0034},{"x":4.7166,"v":0.0033,"f":0.0033},{"x":4.7270,"v":0.0048,"f":0.0048},{"x":4.7380,"v":0.0048,"f":0.0048},{"x":4.7490,"v":0.0074,"f":0.0074},{"x":4.7601,"v":0.0068,"f":0.0068},{"x":4.7719,"v":0.0081,"f":0.0081},{"x":4.7800,"v":0.0072,"f":0.0072},{"x":4.7969,"v":0.0035,"f":0.0035},{"x":4.8072,"v":0.0017,"f":0.0017},{"x":4.8183,"v":0.0021},{"x":4.8293,"v":0.0003},{"x":4.8404,"v":-0.0009},{"x":4.8514,"v":-0.0009},{"x":4.8632,"v":-0.0007},{"x":4.8742,"v":-0.0005},{"x":4.8853,"v":-0.0006},{"x":4.8956,"v":-0.0003},{"x":4.9074,"v":0.0019},{"x":4.9184,"v":0.0041},{"x":4.9287,"v":0.0003},{"x":4.9398,"v":-0.0009},{"x":4.9515,"v":0.0012},{"x":4.9633,"v":0.0008},{"x":4.9744,"v":0.0011},{"x":4.9854,"v":0.0018},{"x":4.9957,"v":-0.0009},{"x":5.0068,"v":-0.0007},{"x":5.0186,"v":0.0002},{"x":5.0296,"v":-0.0003},{"x":5.0414,"v":-0.0004},{"x":5.0524,"v":0.0011}],

 "f7": [{"x":15.480,"y":0.9937},{"x":15.4865,"y":0.9872},{"x":15.5016,"y":0.9888},{"x":15.5306,"y":0.9917},{"x":15.5395,"y":0.9886},{"x":15.5521,"y":0.9942},{"x":15.5811,"y":0.9880},{"x":15.6101,"y":0.9823},{"x":15.6214,"y":0.9855},{"x":15.6416,"y":0.9872},{"x":15.6530,"y":0.9886},{"x":15.6757,"y":0.9782},{"x":15.6908,"y":0.9786},{"x":15.7122,"y":0.9794},{"x":15.7236,"y":0.9771},{"x":15.7652,"y":0.9745},{"x":15.7892,"y":0.9753},{"x":15.8371,"y":0.9741},{"x":15.8522,"y":0.9726},{"x":15.8623,"y":0.9728},{"x":15.9064,"y":0.9786},{"x":15.9304,"y":0.9948},{"x":15.9455,"y":0.9882},{"x":15.9758,"y":0.9810},{"x":15.9934,"y":0.9839},{"x":16.0061,"y":0.9888},{"x":16.0464,"y":0.9825},{"x":16.0565,"y":0.9712},{"x":16.0691,"y":0.9784},{"x":16.0792,"y":0.9771},{"x":16.0968,"y":0.9763},{"x":16.1107,"y":0.9794},{"x":16.1246,"y":0.9687},{"x":16.1410,"y":0.9767},{"x":16.1485,"y":0.9691},{"x":16.1624,"y":0.9767},{"x":16.1738,"y":0.9745},{"x":16.1876,"y":0.9736},{"x":16.1965,"y":0.9652},{"x":16.2078,"y":0.9710},{"x":16.2343,"y":0.9687},{"x":16.2457,"y":0.9677},{"x":16.2570,"y":0.9644},{"x":16.2633,"y":0.9634},{"x":16.2772,"y":0.9745},{"x":16.3037,"y":0.9572},{"x":16.3138,"y":0.9622},{"x":16.3251,"y":0.9671},{"x":16.3352,"y":0.9589},{"x":16.3466,"y":0.9681},{"x":16.3730,"y":0.9597},{"x":16.3856,"y":0.9648},{"x":16.3957,"y":0.9642},{"x":16.4058,"y":0.9572},{"x":16.4184,"y":0.9630},{"x":16.4436,"y":0.9572},{"x":16.4537,"y":0.9572},{"x":16.4676,"y":0.9613},{"x":16.4865,"y":0.9617},{"x":16.5180,"y":0.9554},{"x":16.5306,"y":0.9564},{"x":16.5433,"y":0.9533},{"x":16.5584,"y":0.9476},{"x":16.5685,"y":0.9499},{"x":16.5798,"y":0.9517},{"x":16.5912,"y":0.9517},{"x":16.600,"y":0.9517}],
 "t7": [{"x":15.471,"y":0.9923},{"x":15.6,"y":0.9858},{"x":15.7135,"y":0.978},{"x":15.9027,"y":0.9708},{"x":16.0288,"y":0.9667},{"x":16.2179,"y":0.9646},{"x":16.4071,"y":0.9615},{"x":16.5332,"y":0.9564},{"x":16.6,"y":0.9503}],
 "e7": [{"x":15.905,"y":5.1,"lo":3.1,"hi":6.7},{"x":15.982,"y":30.1,"lo":25.6,"hi":34.5},{"x":16.059,"y":20.2,"lo":16.6,"hi":23.8},{"x":16.135,"y":22.1,"lo":18.3,"hi":25.9}],
 "b7": [{"x":15.866,"x2":15.962,"y":10.3},{"x":15.962,"x2":16.208,"y":22.5}],
 "c7": [{"x":15.480,"v":0.0020},{"x":15.489,"v":-0.003},{"x":15.502,"v":-0.0018},{"x":15.531,"v":0.0025},{"x":15.539,"v":0.0012},{"x":15.552,"v":0.0068},{"x":15.581,"v":-0.0002},{"x":15.610,"v":-0.0016},{"x":15.621,"v":0.0020},{"x":15.642,"v":0.0029},{"x":15.653,"v":0.0070},{"x":15.676,"v":-0.0023},{"x":15.691,"v":-0.0011},{"x":15.712,"v":0.0010},{"x":15.724,"v":-0.0009},{"x":15.745,"v":-0.0012},{"x":15.765,"v":-0.0014},{"x":15.789,"v":0.0007},{"x":15.816,"v":0.0012},{"x":15.837,"v":0.0012},{"x":15.852,"v":0.0007},{"x":15.862,"v":0.0012,"f":0.0012},{"x":15.906,"v":0.0075,"f":0.0075},{"x":15.930,"v":0.0256,"f":0.0256},{"x":15.946,"v":0.0199,"f":0.0199},{"x":15.976,"v":0.0152,"f":0.0152},{"x":15.993,"v":0.0179,"f":0.0179},{"x":16.006,"v":0.0219,"f":0.0219},{"x":16.046,"v":0.0166,"f":0.0166},{"x":16.056,"v":0.0053,"f":0.0053},{"x":16.069,"v":0.0126,"f":0.0126},{"x":16.079,"v":0.0118,"f":0.0118},{"x":16.097,"v":0.0113,"f":0.0113},{"x":16.111,"v":0.0144,"f":0.0144},{"x":16.125,"v":0.0041,"f":0.0041},{"x":16.141,"v":0.0105,"f":0.0105},{"x":16.149,"v":0.0042,"f":0.0042},{"x":16.162,"v":0.0128,"f":0.0128},{"x":16.174,"v":0.0104,"f":0.0104},{"x":16.188,"v":0.0099,"f":0.0099},{"x":16.196,"v":0.0015,"f":0.0015},{"x":16.208,"v":0.0073,"f":0.0073},{"x":16.234,"v":0.0060,"f":0.0060},{"x":16.246,"v":0.0049,"f":0.0049},{"x":16.257,"v":0.0022},{"x":16.263,"v":0.0001},{"x":16.277,"v":0.0118},{"x":16.291,"v":0.0005},{"x":16.304,"v":-0.003},{"x":16.314,"v":0.0012},{"x":16.325,"v":0.0063},{"x":16.335,"v":-0.0012},{"x":16.347,"v":0.006},{"x":16.373,"v":-0.0009},{"x":16.386,"v":0.0041},{"x":16.396,"v":0.0036},{"x":16.406,"v":-0.0016},{"x":16.418,"v":0.0032},{"x":16.444,"v":-0.003},{"x":16.454,"v":-0.0016},{"x":16.468,"v":0.0029},{"x":16.487,"v":0.0046},{"x":16.518,"v":0.0005},{"x":16.531,"v":0.0012},{"x":16.543,"v":-0.0012},{"x":16.558,"v":-0.003},{"x":16.568,"v":-0.0019},{"x":16.580,"v":0.0001},{"x":16.591,"v":0.002}],

 "f8": [{"x":5.1539,"y":1.0086},{"x":5.1652,"y":1.0014},{"x":5.1774,"y":1.0014},{"x":5.1904,"y":1.0052},{"x":5.2070,"y":1.0029},{"x":5.2191,"y":0.9990},{"x":5.2304,"y":0.9990},{"x":5.2435,"y":0.9976},{"x":5.2557,"y":0.9952},{"x":5.2852,"y":1.0038},{"x":5.2974,"y":0.9943},{"x":5.3096,"y":0.9895},{"x":5.3209,"y":0.9848},{"x":5.3304,"y":0.9810},{"x":5.3583,"y":0.9848},{"x":5.3696,"y":0.9848},{"x":5.3809,"y":0.9810},{"x":5.3913,"y":0.9800},{"x":5.4026,"y":0.9819},{"x":5.4278,"y":0.9738},{"x":5.4400,"y":0.9771},{"x":5.4513,"y":0.9752},{"x":5.4635,"y":0.9752},{"x":5.4765,"y":0.9738},{"x":5.4991,"y":0.9719},{"x":5.5113,"y":0.9738},{"x":5.5235,"y":0.9705},{"x":5.5357,"y":0.9743},{"x":5.5478,"y":0.9738},{"x":5.5600,"y":0.9738},{"x":5.5713,"y":0.9733},{"x":5.5835,"y":0.9752},{"x":5.5948,"y":0.9762},{"x":5.6070,"y":0.9733},{"x":5.6191,"y":0.9733},{"x":5.6304,"y":0.9795},{"x":5.6426,"y":0.9776},{"x":5.6539,"y":0.9800},{"x":5.6661,"y":0.9857},{"x":5.6783,"y":0.9824},{"x":5.6904,"y":0.9871},{"x":5.7026,"y":0.9857},{"x":5.7139,"y":0.9943},{"x":5.7261,"y":0.9967},{"x":5.7452,"y":1.0038},{"x":5.7565,"y":1.0076},{"x":5.7670,"y":1.0095},{"x":5.7791,"y":1.0229},{"x":5.7904,"y":1.0324},{"x":5.8035,"y":1.0395},{"x":5.8157,"y":1.0400},{"x":5.8278,"y":1.0505},{"x":5.8391,"y":1.0500},{"x":5.8513,"y":1.0552},{"x":5.8870,"y":1.0619},{"x":5.8983,"y":1.0676},{"x":5.9104,"y":1.0767},{"x":5.9217,"y":1.0743}],
 "t8": [{"x":5.147,"y":1.0076},{"x":5.25,"y":0.9990},{"x":5.34,"y":0.9857},{"x":5.42,"y":0.9780},{"x":5.5,"y":0.9714},{"x":5.6,"y":0.9730},{"x":5.69,"y":0.9850},{"x":5.76,"y":0.9980},{"x":5.8,"y":1.0150},{"x":5.86,"y":1.0400},{"x":5.925,"y":1.0729}],
 "e8": [{"x":5.1626,"y":6.35,"lo":2.74,"hi":9.95},{"x":5.1983,"y":2.74,"lo":0.19,"hi":5.14},{"x":5.2322,"y":6.35,"lo":2.74,"hi":9.95},{"x":5.2678,"y":2.74,"lo":0.19,"hi":5.14},{"x":5.3026,"y":2.74,"lo":0.19,"hi":5.14},{"x":5.3374,"y":8.17,"lo":4.18,"hi":12.1},{"x":5.3722,"y":0.91,"lo":-0.87,"hi":2.74},{"x":5.4070,"y":4.57,"lo":1.3,"hi":7.55},{"x":5.4417,"y":4.57,"lo":1.3,"hi":7.55},{"x":5.4774,"y":8.17,"lo":4.18,"hi":12.1},{"x":5.5122,"y":6.35,"lo":2.74,"hi":9.95},{"x":5.5470,"y":4.57,"lo":1.3,"hi":7.55},{"x":5.5817,"y":2.74,"lo":0.19,"hi":5.14},{"x":5.6165,"y":4.57,"lo":1.3,"hi":7.55},{"x":5.6513,"y":8.17,"lo":4.18,"hi":12.1},{"x":5.6861,"y":2.74,"lo":0.19,"hi":5.14},{"x":5.7209,"y":2.74,"lo":0.19,"hi":5.14},{"x":5.7557,"y":17.16,"lo":11.4,"hi":19.8},{"x":5.7904,"y":13.56,"lo":8.5,"hi":17.2},{"x":5.8252,"y":15.34,"lo":9.95,"hi":19.8},{"x":5.8600,"y":9.95,"lo":5.6,"hi":14.0},{"x":5.8957,"y":6.35,"lo":2.74,"hi":9.95}],
 "b8": [{"x":5.147,"x2":5.7365,"y":4.7},{"x":5.7365,"x2":5.925,"y":12.5}],
 "c8": [{"x":5.1539,"v":0.0022},{"x":5.1652,"v":-0.002},{"x":5.1774,"v":-0.002},{"x":5.1904,"v":0.0021},{"x":5.2070,"v":0.0019},{"x":5.2191,"v":-0.0013},{"x":5.2304,"v":0.001},{"x":5.2435,"v":0.0009},{"x":5.2557,"v":0.0006},{"x":5.2678,"v":0.001},{"x":5.2852,"v":0.0111},{"x":5.2974,"v":-0.002},{"x":5.3096,"v":-0.002},{"x":5.3209,"v":-0.002},{"x":5.3304,"v":-0.002},{"x":5.3496,"v":0.0008},{"x":5.3583,"v":0.0008},{"x":5.3696,"v":-0.0006},{"x":5.3809,"v":-0.0006},{"x":5.3913,"v":0.0008},{"x":5.4026,"v":0.0002},{"x":5.4278,"v":-0.002},{"x":5.4400,"v":0.0015},{"x":5.4513,"v":0.0003},{"x":5.4635,"v":0.0007},{"x":5.4765,"v":-0.0008},{"x":5.4887,"v":-0.0011},{"x":5.4991,"v":-0.0013},{"x":5.5113,"v":0.0029},{"x":5.5235,"v":0.0024},{"x":5.5357,"v":0.001},{"x":5.5478,"v":-0.0006},{"x":5.5600,"v":0.0022},{"x":5.5713,"v":-0.002},{"x":5.5835,"v":0.0015},{"x":5.5948,"v":-0.0004},{"x":5.6070,"v":-0.0008},{"x":5.6191,"v":0.0027},{"x":5.6304,"v":-0.002},{"x":5.6426,"v":0.0001},{"x":5.6539,"v":-0.0006},{"x":5.6661,"v":-0.0008},{"x":5.6783,"v":-0.002},{"x":5.6904,"v":-0.0004},{"x":5.7026,"v":-0.002},{"x":5.7139,"v":0.0022},{"x":5.7261,"v":0.0027},{"x":5.7452,"v":0.0031,"f":0.0031},{"x":5.7565,"v":0.0048,"f":0.0048},{"x":5.7670,"v":0.0029,"f":0.0029},{"x":5.7791,"v":0.0075,"f":0.0075},{"x":5.7904,"v":0.0157,"f":0.0157},{"x":5.8035,"v":0.0141,"f":0.0141},{"x":5.8157,"v":0.0148,"f":0.0148},{"x":5.8278,"v":0.0171,"f":0.0171},{"x":5.8391,"v":0.0162,"f":0.0162},{"x":5.8513,"v":0.0151,"f":0.0151},{"x":5.8643,"v":0.0115,"f":0.0115},{"x":5.8748,"v":0.0108,"f":0.0108},{"x":5.8870,"v":0.0089,"f":0.0089},{"x":5.8983,"v":0.0062,"f":0.0062},{"x":5.9104,"v":0.0087},{"x":5.9217,"v":0.0}],

 "f9": [{"x":5.1485,"y":1.0748},{"x":5.1538,"y":1.0662},{"x":5.1583,"y":1.0570},{"x":5.1645,"y":1.0570},{"x":5.1707,"y":1.0534},{"x":5.1760,"y":1.0570},{"x":5.1822,"y":1.0427},{"x":5.1885,"y":1.0399},{"x":5.1982,"y":1.0306},{"x":5.2062,"y":1.0271},{"x":5.2133,"y":1.0285},{"x":5.2204,"y":1.0235},{"x":5.2275,"y":1.0214},{"x":5.2337,"y":1.0178},{"x":5.2400,"y":1.0164},{"x":5.2462,"y":1.0199},{"x":5.2515,"y":1.0228},{"x":5.2577,"y":1.0214},{"x":5.2639,"y":1.0271},{"x":5.2826,"y":1.0142},{"x":5.2897,"y":1.0135},{"x":5.2968,"y":1.0249},{"x":5.3021,"y":1.0107},{"x":5.3092,"y":1.0164},{"x":5.3163,"y":1.0199},{"x":5.3252,"y":1.0221},{"x":5.3332,"y":1.0271},{"x":5.3554,"y":1.0627},{"x":5.3625,"y":1.0613},{"x":5.3696,"y":1.0698},{"x":5.3750,"y":1.0748},{"x":5.3812,"y":1.0791},{"x":5.3874,"y":1.0840},{"x":5.3927,"y":1.0876},{"x":5.3989,"y":1.0890},{"x":5.4052,"y":1.0862},{"x":5.4282,"y":1.0912},{"x":5.4353,"y":1.0698},{"x":5.4416,"y":1.0677},{"x":5.4487,"y":1.0677},{"x":5.4549,"y":1.0641},{"x":5.4611,"y":1.0613},{"x":5.4673,"y":1.0641},{"x":5.4735,"y":1.0605},{"x":5.4798,"y":1.0598},{"x":5.4869,"y":1.0584},{"x":5.5020,"y":1.0570},{"x":5.5082,"y":1.0541},{"x":5.5153,"y":1.0556},{"x":5.5224,"y":1.0641},{"x":5.5286,"y":1.0655},{"x":5.5357,"y":1.0648},{"x":5.5428,"y":1.0641},{"x":5.5490,"y":1.0627},{"x":5.5552,"y":1.0577},{"x":5.5641,"y":1.0513},{"x":5.5748,"y":1.0556},{"x":5.5819,"y":1.0377},{"x":5.5881,"y":1.0342},{"x":5.5934,"y":1.0356},{"x":5.6005,"y":1.0342},{"x":5.6067,"y":1.0321},{"x":5.6147,"y":1.0249},{"x":5.6210,"y":1.0199},{"x":5.6272,"y":1.0128},{"x":5.6334,"y":1.0093},{"x":5.6396,"y":1.0043},{"x":5.6467,"y":0.9972},{"x":5.6529,"y":0.9950},{"x":5.6591,"y":0.9929},{"x":5.6654,"y":0.9915},{"x":5.6716,"y":0.9858},{"x":5.6787,"y":0.9793},{"x":5.6849,"y":0.9772},{"x":5.6902,"y":0.9758},{"x":5.6956,"y":0.9736},{"x":5.7018,"y":0.9736},{"x":5.7080,"y":0.9758},{"x":5.7142,"y":0.9879},{"x":5.7204,"y":0.9772},{"x":5.7266,"y":0.9751},{"x":5.7329,"y":0.9736},{"x":5.7515,"y":0.9687},{"x":5.7586,"y":0.9665},{"x":5.7657,"y":0.9665},{"x":5.7719,"y":0.9665},{"x":5.7773,"y":0.9644},{"x":5.7826,"y":0.9630},{"x":5.7879,"y":0.9615},{"x":5.7933,"y":0.9608},{"x":5.7995,"y":0.9594},{"x":5.8048,"y":0.9544},{"x":5.8234,"y":0.9594},{"x":5.8288,"y":0.9594},{"x":5.8350,"y":0.9580},{"x":5.8403,"y":0.9573},{"x":5.8465,"y":0.9573},{"x":5.8528,"y":0.9523},{"x":5.8590,"y":0.9487},{"x":5.8652,"y":0.9452},{"x":5.8714,"y":0.9430},{"x":5.8785,"y":0.9501},{"x":5.8838,"y":0.9416},{"x":5.8972,"y":0.9509},{"x":5.9025,"y":0.9772},{"x":5.9060,"y":0.9487},{"x":5.9123,"y":0.9466},{"x":5.9185,"y":0.9430},{"x":5.9247,"y":0.9380},{"x":5.9309,"y":0.9359},{"x":5.9371,"y":0.9345}],
 "t9": [{"x":5.4975,"y":1.057},{"x":5.542,"y":1.046},{"x":5.595,"y":1.029},{"x":5.648,"y":1.003},{"x":5.675,"y":0.986}],
 "e9": [{"x":5.184,"y":7.1,"lo":4.6,"hi":9.5},{"x":5.2639,"y":10.6,"lo":7.9,"hi":13.4},{"x":5.3448,"y":8.5,"lo":6.0,"hi":10.9},{"x":5.4247,"y":12.6,"lo":9.5,"hi":15.8},{"x":5.5046,"y":10.6,"lo":7.9,"hi":13.4},{"x":5.5845,"y":31.8,"lo":26.9,"hi":36.7},{"x":5.6654,"y":23.5,"lo":19.6,"hi":27.6},{"x":5.7453,"y":22.2,"lo":18.2,"hi":26.2},{"x":5.8252,"y":18.0,"lo":14.6,"hi":21.5},{"x":5.9051,"y":13.5,"lo":10.4,"hi":16.7}],
 "b9": [{"x":5.145,"x2":5.5197,"y":9.6},{"x":5.5197,"x2":5.7702,"y":26.3},{"x":5.7702,"x2":5.94,"y":15.3}],
 "c9": [{"x":5.4602,"v":-0.0012},{"x":5.4664,"v":0.0016},{"x":5.4726,"v":0.0016},{"x":5.4798,"v":-0.0012},{"x":5.4869,"v":-0.0012},{"x":5.5020,"v":0.0003},{"x":5.5082,"v":0.0006,"f":0.0006},{"x":5.5153,"v":0.0005,"f":0.0005},{"x":5.5224,"v":0.0095,"f":0.0095},{"x":5.5259,"v":0.0143,"f":0.0143},{"x":5.5330,"v":0.0156,"f":0.0156},{"x":5.5401,"v":0.0189,"f":0.0189},{"x":5.5472,"v":0.0171,"f":0.0171},{"x":5.5552,"v":0.0156,"f":0.0156},{"x":5.5615,"v":0.0164,"f":0.0164},{"x":5.5694,"v":0.0205,"f":0.0205},{"x":5.5730,"v":0.0242,"f":0.0242},{"x":5.5783,"v":0.0114,"f":0.0114},{"x":5.5863,"v":0.0112,"f":0.0112},{"x":5.5934,"v":0.0121,"f":0.0121},{"x":5.6005,"v":0.0147,"f":0.0147},{"x":5.6067,"v":0.0124,"f":0.0124},{"x":5.6121,"v":0.0116,"f":0.0116},{"x":5.6192,"v":0.0079,"f":0.0079},{"x":5.6272,"v":0.0037,"f":0.0037},{"x":5.6334,"v":0.0027,"f":0.0027},{"x":5.6396,"v":0.0014,"f":0.0014},{"x":5.6458,"v":-0.0005},{"x":5.6529,"v":0.0008},{"x":5.6591,"v":0.0011},{"x":5.6654,"v":0.0001},{"x":5.6716,"v":0.003},{"x":5.6751,"v":0.0014},{"x":5.6796,"v":-0.0012},{"x":5.6840,"v":-0.0025},{"x":5.6893,"v":0.0001},{"x":5.6973,"v":0.0012}]
},
"vconcat": [
 {"spacing": 15, "hconcat": [
  {"spacing": 0, "bounds": "flush", "vconcat": [
   {"width": 294, "height": 147, "resolve": {"axis": {"x": "independent", "y": "independent"}}, "layer": [
    {"data": {"name": "t1"}, "mark": {"type": "line", "color": "#c8c8c8", "strokeWidth": 5, "clip": true}, "encoding": {"x": {"field": "x", "type": "quantitative", "scale": {"domain": [0.008, 0.862], "nice": false, "zero": false}, "axis": {"values": [0.1,0.2,0.3,0.4,0.5,0.6,0.7,0.8], "tickCount": 50, "labels": false, "title": null, "minExtent": 0, "maxExtent": 0}}, "y": {"field": "y", "type": "quantitative", "scale": {"domain": [0.9839, 1.0163], "nice": false, "zero": false}, "axis": {"values": [0.985,0.99,0.995,1.0,1.005,1.01,1.015], "tickCount": 50, "format": ".3f", "title": "CoRoT flux [norm.]", "minExtent": 42, "maxExtent": 42, "titlePadding": 4}}}},
    {"data": {"name": "f1"}, "mark": {"type": "square", "color": "#0000ff", "size": 14, "opacity": 1, "clip": true}, "encoding": {"x": {"field": "x", "type": "quantitative", "axis": {"orient": "top", "values": [0.1,0.2,0.3,0.4,0.5,0.6,0.7,0.8], "tickCount": 50, "labels": false, "title": null, "minExtent": 0, "maxExtent": 0}}, "y": {"field": "y", "type": "quantitative", "axis": {"orient": "right", "values": [0.985,0.99,0.995,1.0,1.005,1.01,1.015], "tickCount": 50, "labels": false, "title": null, "minExtent": 0, "maxExtent": 0}}}},
    {"data": {"name": "m1"}, "mark": {"type": "text", "align": "left", "baseline": "top", "dx": 4, "dy": 2, "fontSize": 13}, "encoding": {"x": {"datum": 0.008, "type": "quantitative", "axis": {"orient": "bottom", "tickCount": 42, "tickSize": 3, "offset": -3, "labels": false, "title": null, "minExtent": 0, "maxExtent": 0}}, "y": {"datum": 1.0163, "type": "quantitative", "axis": {"orient": "left", "tickCount": 32, "tickSize": 3, "offset": -3, "labels": false, "title": null, "minExtent": 0, "maxExtent": 0}}, "text": {"field": "id"}}},
    {"data": {"name": "m1"}, "mark": {"type": "text", "align": "right", "baseline": "top", "dx": -4, "dy": 2, "fontSize": 13}, "encoding": {"x": {"datum": 0.862, "type": "quantitative", "axis": {"orient": "top", "tickCount": 42, "tickSize": 3, "offset": -3, "labels": false, "title": null, "minExtent": 0, "maxExtent": 0}}, "y": {"datum": 1.0163, "type": "quantitative", "axis": {"orient": "right", "tickCount": 32, "tickSize": 3, "offset": -3, "labels": false, "title": null, "minExtent": 0, "maxExtent": 0}}, "text": {"field": "cls"}}}
   ]},
   {"width": 294, "height": 149, "resolve": {"scale": {"y": "independent"}, "axis": {"x": "independent", "y": "independent"}}, "layer": [
    {"layer": [
     {"data": {"name": "c1"}, "mark": {"type": "area", "color": "#d9d9d9", "opacity": 1, "clip": true}, "encoding": {"x": {"field": "x", "type": "quantitative", "scale": {"domain": [0.008, 0.862], "nice": false, "zero": false}, "axis": {"values": [0.1,0.2,0.3,0.4,0.5,0.6,0.7,0.8], "tickCount": 50, "format": ".1f", "title": "MJD - 55898.1", "minExtent": 24, "maxExtent": 24, "titlePadding": 3}}, "y": {"field": "f", "type": "quantitative", "scale": {"domain": [-0.0012, 0.01406], "nice": false, "zero": false}, "axis": {"orient": "right", "values": [0,0.002,0.004,0.006,0.008,0.01,0.012], "tickCount": 50, "format": ".3f", "title": "CoRoT flux [norm. - detrended]", "labelFontSize": 9.5, "titleFontSize": 10, "titleColor": "#333333", "minExtent": 30, "maxExtent": 30, "titlePadding": 2}}, "y2": {"datum": 0}}},
     {"data": {"name": "c1"}, "mark": {"type": "line", "color": "#2222ff", "strokeWidth": 1, "clip": true}, "encoding": {"x": {"field": "x", "type": "quantitative"}, "y": {"field": "v", "type": "quantitative"}}}
    ]},
    {"layer": [
     {"data": {"name": "m1"}, "mark": {"type": "rule", "color": "#b4b4b4", "strokeWidth": 2}, "encoding": {"y": {"datum": 0, "type": "quantitative", "scale": {"domain": [-1.87, 21.87], "nice": false, "zero": false}, "axis": {"orient": "left", "values": [0,5,10,15,20], "tickCount": 50, "format": "d", "title": "[0.5-8.0keV] Cnts/Ms/cm⁻²", "titleY": 84, "minExtent": 42, "maxExtent": 42, "titlePadding": 4}}}},
     {"data": {"name": "m1"}, "mark": {"type": "rule", "color": "#999999", "strokeDash": [2,2], "strokeWidth": 1}, "encoding": {"y": {"field": "dot", "type": "quantitative"}}},
     {"data": {"name": "b1"}, "mark": {"type": "line", "interpolate": "step-after", "color": "#aaaaaa", "strokeWidth": 1.2, "clip": true}, "encoding": {"x": {"field": "x", "type": "quantitative", "axis": null}, "y": {"field": "y", "type": "quantitative"}}},
     {"data": {"name": "b1"}, "mark": {"type": "rule", "color": "black", "strokeWidth": 1.8, "clip": true}, "encoding": {"x": {"field": "x", "type": "quantitative", "axis": {"orient": "top", "values": [0.1,0.2,0.3,0.4,0.5,0.6,0.7,0.8], "tickCount": 50, "labels": false, "title": null, "minExtent": 0, "maxExtent": 0}}, "x2": {"field": "x2"}, "y": {"field": "y", "type": "quantitative"}}},
     {"data": {"name": "m1"}, "mark": {"type": "rule", "color": "#ff33ff", "strokeWidth": 1.5, "clip": true}, "encoding": {"x": {"field": "mx", "type": "quantitative", "axis": null}, "x2": {"field": "mx2"}, "y": {"field": "my", "type": "quantitative"}}},
     {"data": {"name": "e1"}, "mark": {"type": "rule", "color": "black", "strokeWidth": 2, "clip": true}, "encoding": {"x": {"field": "x", "type": "quantitative", "axis": null}, "y": {"field": "lo", "type": "quantitative"}, "y2": {"field": "hi"}}},
     {"data": {"name": "e1"}, "mark": {"type": "circle", "color": "black", "size": 36, "opacity": 1, "clip": true}, "encoding": {"x": {"field": "x", "type": "quantitative", "axis": null}, "y": {"field": "y", "type": "quantitative"}}}
    ]},
    {"data": {"name": "m1"}, "mark": {"type": "text", "align": "left", "baseline": "top", "dy": 1, "fontSize": 7, "color": "#555555"}, "encoding": {"x": {"datum": 0.221, "type": "quantitative", "axis": {"orient": "bottom", "tickCount": 42, "tickSize": 3, "offset": -3, "labels": false, "title": null, "minExtent": 0, "maxExtent": 0}}, "y": {"datum": 21.87, "type": "quantitative", "scale": {"domain": [-1.87, 21.87], "nice": false, "zero": false}, "axis": {"orient": "left", "tickCount": 23, "tickSize": 3, "offset": -3, "labels": false, "title": null, "minExtent": 0, "maxExtent": 0}}, "text": {"field": "a1"}}},
    {"data": {"name": "m1"}, "mark": {"type": "text", "align": "left", "baseline": "top", "dy": 9, "fontSize": 7, "color": "#4d4dff"}, "encoding": {"x": {"datum": 0.221, "type": "quantitative", "axis": {"orient": "top", "tickCount": 42, "tickSize": 3, "offset": -3, "labels": false, "title": null, "minExtent": 0, "maxExtent": 0}}, "y": {"datum": 0.01406, "type": "quantitative", "scale": {"domain": [-0.0012, 0.01406], "nice": false, "zero": false}, "axis": {"orient": "right", "tickCount": 15, "tickSize": 3, "offset": -3, "labels": false, "title": null, "minExtent": 0, "maxExtent": 0}}, "text": {"field": "a2"}}}
   ]}
  ]},
  {"spacing": 0, "bounds": "flush", "vconcat": [
   {"width": 303, "height": 147, "resolve": {"axis": {"x": "independent", "y": "independent"}}, "layer": [
    {"data": {"name": "t2"}, "mark": {"type": "line", "color": "#c8c8c8", "strokeWidth": 5, "clip": true}, "encoding": {"x": {"field": "x", "type": "quantitative", "scale": {"domain": [15.867, 16.208], "nice": false, "zero": false}, "axis": {"values": [15.9,16.0,16.1,16.2], "tickCount": 50, "labels": false, "title": null, "minExtent": 0, "maxExtent": 0}}, "y": {"field": "y", "type": "quantitative", "scale": {"domain": [0.9654, 1.1288], "nice": false, "zero": false}, "axis": {"values": [1.0,1.05,1.1], "tickCount": 50, "format": ".2f", "title": "CoRoT flux [norm.]", "minExtent": 42, "maxExtent": 42, "titlePadding": 4}}}},
    {"data": {"name": "f2"}, "mark": {"type": "square", "color": "#0000ff", "size": 14, "opacity": 1, "clip": true}, "encoding": {"x": {"field": "x", "type": "quantitative", "axis": {"orient": "top", "values": [15.9,16.0,16.1,16.2], "tickCount": 50, "labels": false, "title": null, "minExtent": 0, "maxExtent": 0}}, "y": {"field": "y", "type": "quantitative", "axis": {"orient": "right", "values": [1.0,1.05,1.1], "tickCount": 50, "labels": false, "title": null, "minExtent": 0, "maxExtent": 0}}}},
    {"data": {"name": "m2"}, "mark": {"type": "text", "align": "left", "baseline": "top", "dx": 4, "dy": 2, "fontSize": 13}, "encoding": {"x": {"datum": 15.867, "type": "quantitative", "axis": {"orient": "bottom", "tickCount": 17, "tickSize": 3, "offset": -3, "labels": false, "title": null, "minExtent": 0, "maxExtent": 0}}, "y": {"datum": 1.1288, "type": "quantitative", "axis": {"orient": "left", "tickCount": 16, "tickSize": 3, "offset": -3, "labels": false, "title": null, "minExtent": 0, "maxExtent": 0}}, "text": {"field": "id"}}},
    {"data": {"name": "m2"}, "mark": {"type": "text", "align": "right", "baseline": "top", "dx": -4, "dy": 2, "fontSize": 13}, "encoding": {"x": {"datum": 16.208, "type": "quantitative", "axis": {"orient": "top", "tickCount": 17, "tickSize": 3, "offset": -3, "labels": false, "title": null, "minExtent": 0, "maxExtent": 0}}, "y": {"datum": 1.1288, "type": "quantitative", "axis": {"orient": "right", "tickCount": 16, "tickSize": 3, "offset": -3, "labels": false, "title": null, "minExtent": 0, "maxExtent": 0}}, "text": {"field": "cls"}}}
   ]},
   {"width": 303, "height": 149, "resolve": {"scale": {"y": "independent"}, "axis": {"x": "independent", "y": "independent"}}, "layer": [
    {"layer": [
     {"data": {"name": "c2"}, "mark": {"type": "area", "color": "#d9d9d9", "opacity": 1, "clip": true}, "encoding": {"x": {"field": "x", "type": "quantitative", "scale": {"domain": [15.867, 16.208], "nice": false, "zero": false}, "axis": {"values": [15.9,16.0,16.1,16.2], "tickCount": 50, "format": ".1f", "title": "MJD - 54537.8", "minExtent": 24, "maxExtent": 24, "titlePadding": 3}}, "y": {"field": "f", "type": "quantitative", "scale": {"domain": [-0.0083, 0.094], "nice": false, "zero": false}, "axis": {"orient": "right", "values": [0,0.02,0.04,0.06,0.08], "tickCount": 50, "format": ".2f", "title": "CoRoT flux [norm. - detrended]", "labelFontSize": 9.5, "titleFontSize": 10, "titleColor": "#333333", "minExtent": 30, "maxExtent": 30, "titlePadding": 2}}, "y2": {"datum": 0}}},
     {"data": {"name": "c2"}, "mark": {"type": "line", "color": "#2222ff", "strokeWidth": 1, "clip": true}, "encoding": {"x": {"field": "x", "type": "quantitative"}, "y": {"field": "v", "type": "quantitative"}}}
    ]},
    {"layer": [
     {"data": {"name": "m2"}, "mark": {"type": "rule", "color": "#b4b4b4", "strokeWidth": 2}, "encoding": {"y": {"datum": 0, "type": "quantitative", "scale": {"domain": [-3.0, 33.8], "nice": false, "zero": false}, "axis": {"orient": "left", "values": [0,10,20,30], "tickCount": 50, "format": "d", "title": "[0.5-8.0keV] Cnts/Ms/cm⁻²", "titleY": 84, "minExtent": 42, "maxExtent": 42, "titlePadding": 4}}}},
     {"data": {"name": "m2"}, "mark": {"type": "rule", "color": "#999999", "strokeDash": [2,2], "strokeWidth": 1}, "encoding": {"y": {"field": "dot", "type": "quantitative"}}},
     {"data": {"name": "b2"}, "mark": {"type": "line", "interpolate": "step-after", "color": "#aaaaaa", "strokeWidth": 1.2, "clip": true}, "encoding": {"x": {"field": "x", "type": "quantitative", "axis": null}, "y": {"field": "y", "type": "quantitative"}}},
     {"data": {"name": "b2"}, "mark": {"type": "rule", "color": "black", "strokeWidth": 1.8, "clip": true}, "encoding": {"x": {"field": "x", "type": "quantitative", "axis": {"orient": "top", "values": [15.9,16.0,16.1,16.2], "tickCount": 50, "labels": false, "title": null, "minExtent": 0, "maxExtent": 0}}, "x2": {"field": "x2"}, "y": {"field": "y", "type": "quantitative"}}},
     {"data": {"name": "m2"}, "mark": {"type": "rule", "color": "#ff33ff", "strokeWidth": 1.5, "clip": true}, "encoding": {"x": {"field": "mx", "type": "quantitative", "axis": null}, "x2": {"field": "mx2"}, "y": {"field": "my", "type": "quantitative"}}},
     {"data": {"name": "e2"}, "mark": {"type": "rule", "color": "black", "strokeWidth": 2, "clip": true}, "encoding": {"x": {"field": "x", "type": "quantitative", "axis": null}, "y": {"field": "lo", "type": "quantitative"}, "y2": {"field": "hi"}}},
     {"data": {"name": "e2"}, "mark": {"type": "circle", "color": "black", "size": 36, "opacity": 1, "clip": true}, "encoding": {"x": {"field": "x", "type": "quantitative", "axis": null}, "y": {"field": "y", "type": "quantitative"}}}
    ]},
    {"data": {"name": "m2"}, "mark": {"type": "text", "align": "left", "baseline": "top", "dy": 1, "fontSize": 7, "color": "#555555"}, "encoding": {"x": {"datum": 15.952, "type": "quantitative", "axis": {"orient": "bottom", "tickCount": 17, "tickSize": 3, "offset": -3, "labels": false, "title": null, "minExtent": 0, "maxExtent": 0}}, "y": {"datum": 33.8, "type": "quantitative", "scale": {"domain": [-3.0, 33.8], "nice": false, "zero": false}, "axis": {"orient": "left", "tickCount": 18, "tickSize": 3, "offset": -3, "labels": false, "title": null, "minExtent": 0, "maxExtent": 0}}, "text": {"field": "a1"}}},
    {"data": {"name": "m2"}, "mark": {"type": "text", "align": "left", "baseline": "top", "dy": 9, "fontSize": 7, "color": "#4d4dff"}, "encoding": {"x": {"datum": 15.952, "type": "quantitative", "axis": {"orient": "top", "tickCount": 17, "tickSize": 3, "offset": -3, "labels": false, "title": null, "minExtent": 0, "maxExtent": 0}}, "y": {"datum": 0.094, "type": "quantitative", "scale": {"domain": [-0.0083, 0.094], "nice": false, "zero": false}, "axis": {"orient": "right", "tickCount": 20, "tickSize": 3, "offset": -3, "labels": false, "title": null, "minExtent": 0, "maxExtent": 0}}, "text": {"field": "a2"}}}
   ]}
  ]},
  {"spacing": 0, "bounds": "flush", "vconcat": [
   {"width": 294, "height": 147, "resolve": {"axis": {"x": "independent", "y": "independent"}}, "layer": [
    {"data": {"name": "t3"}, "mark": {"type": "line", "color": "#c8c8c8", "strokeWidth": 5, "clip": true}, "encoding": {"x": {"field": "x", "type": "quantitative", "scale": {"domain": [-0.002, 0.32], "nice": false, "zero": false}, "axis": {"values": [0.0,0.1,0.2,0.3], "tickCount": 50, "labels": false, "title": null, "minExtent": 0, "maxExtent": 0}}, "y": {"field": "y", "type": "quantitative", "scale": {"domain": [1.0272, 1.0522], "nice": false, "zero": false}, "axis": {"values": [1.03,1.035,1.04,1.045,1.05], "tickCount": 50, "format": ".3f", "title": "CoRoT flux [norm.]", "minExtent": 42, "maxExtent": 42, "titlePadding": 4}}}},
    {"data": {"name": "f3"}, "mark": {"type": "square", "color": "#0000ff", "size": 14, "opacity": 1, "clip": true}, "encoding": {"x": {"field": "x", "type": "quantitative", "axis": {"orient": "top", "values": [0.0,0.1,0.2,0.3], "tickCount": 50, "labels": false, "title": null, "minExtent": 0, "maxExtent": 0}}, "y": {"field": "y", "type": "quantitative", "axis": {"orient": "right", "values": [1.03,1.035,1.04,1.045,1.05], "tickCount": 50, "labels": false, "title": null, "minExtent": 0, "maxExtent": 0}}}},
    {"data": {"name": "m3"}, "mark": {"type": "text", "align": "left", "baseline": "top", "dx": 4, "dy": 2, "fontSize": 13}, "encoding": {"x": {"datum": -0.002, "type": "quantitative", "axis": {"orient": "bottom", "tickCount": 16, "tickSize": 3, "offset": -3, "labels": false, "title": null, "minExtent": 0, "maxExtent": 0}}, "y": {"datum": 1.0522, "type": "quantitative", "axis": {"orient": "left", "tickCount": 25, "tickSize": 3, "offset": -3, "labels": false, "title": null, "minExtent": 0, "maxExtent": 0}}, "text": {"field": "id"}}},
    {"data": {"name": "m3"}, "mark": {"type": "text", "align": "right", "baseline": "top", "dx": -4, "dy": 2, "fontSize": 13}, "encoding": {"x": {"datum": 0.32, "type": "quantitative", "axis": {"orient": "top", "tickCount": 16, "tickSize": 3, "offset": -3, "labels": false, "title": null, "minExtent": 0, "maxExtent": 0}}, "y": {"datum": 1.0522, "type": "quantitative", "axis": {"orient": "right", "tickCount": 25, "tickSize": 3, "offset": -3, "labels": false, "title": null, "minExtent": 0, "maxExtent": 0}}, "text": {"field": "cls"}}}
   ]},
   {"width": 294, "height": 149, "resolve": {"scale": {"y": "independent"}, "axis": {"x": "independent", "y": "independent"}}, "layer": [
    {"layer": [
     {"data": {"name": "c3"}, "mark": {"type": "area", "color": "#d9d9d9", "opacity": 1, "clip": true}, "encoding": {"x": {"field": "x", "type": "quantitative", "scale": {"domain": [-0.002, 0.32], "nice": false, "zero": false}, "axis": {"values": [0.0,0.1,0.2,0.3], "tickCount": 50, "format": ".1f", "title": "MJD - 54537.8", "minExtent": 24, "maxExtent": 24, "titlePadding": 3}}, "y": {"field": "f", "type": "quantitative", "scale": {"domain": [-0.00103, 0.0114], "nice": false, "zero": false}, "axis": {"orient": "right", "values": [0,0.002,0.004,0.006,0.008,0.01], "tickCount": 50, "format": ".3f", "title": "CoRoT flux [norm. - detrended]", "labelFontSize": 9.5, "titleFontSize": 10, "titleColor": "#333333", "minExtent": 30, "maxExtent": 30, "titlePadding": 2}}, "y2": {"datum": 0}}},
     {"data": {"name": "c3"}, "mark": {"type": "line", "color": "#2222ff", "strokeWidth": 1, "clip": true}, "encoding": {"x": {"field": "x", "type": "quantitative"}, "y": {"field": "v", "type": "quantitative"}}}
    ]},
    {"layer": [
     {"data": {"name": "m3"}, "mark": {"type": "rule", "color": "#b4b4b4", "strokeWidth": 2}, "encoding": {"y": {"datum": 0, "type": "quantitative", "scale": {"domain": [-4.3, 47.6], "nice": false, "zero": false}, "axis": {"orient": "left", "values": [0,10,20,30,40], "tickCount": 50, "format": "d", "title": "[0.5-8.0keV] Cnts/Ms/cm⁻²", "titleY": 84, "minExtent": 42, "maxExtent": 42, "titlePadding": 4}}}},
     {"data": {"name": "m3"}, "mark": {"type": "rule", "color": "#999999", "strokeDash": [2,2], "strokeWidth": 1}, "encoding": {"y": {"field": "dot", "type": "quantitative"}}},
     {"data": {"name": "b3"}, "mark": {"type": "line", "interpolate": "step-after", "color": "#aaaaaa", "strokeWidth": 1.2, "clip": true}, "encoding": {"x": {"field": "x", "type": "quantitative", "axis": null}, "y": {"field": "y", "type": "quantitative"}}},
     {"data": {"name": "b3"}, "mark": {"type": "rule", "color": "black", "strokeWidth": 1.8, "clip": true}, "encoding": {"x": {"field": "x", "type": "quantitative", "axis": {"orient": "top", "values": [0.0,0.1,0.2,0.3], "tickCount": 50, "labels": false, "title": null, "minExtent": 0, "maxExtent": 0}}, "x2": {"field": "x2"}, "y": {"field": "y", "type": "quantitative"}}},
     {"data": {"name": "m3"}, "mark": {"type": "rule", "color": "#ff33ff", "strokeWidth": 1.5, "clip": true}, "encoding": {"x": {"field": "mx", "type": "quantitative", "axis": null}, "x2": {"field": "mx2"}, "y": {"field": "my", "type": "quantitative"}}},
     {"data": {"name": "e3"}, "mark": {"type": "rule", "color": "black", "strokeWidth": 2, "clip": true}, "encoding": {"x": {"field": "x", "type": "quantitative", "axis": null}, "y": {"field": "lo", "type": "quantitative"}, "y2": {"field": "hi"}}},
     {"data": {"name": "e3"}, "mark": {"type": "circle", "color": "black", "size": 36, "opacity": 1, "clip": true}, "encoding": {"x": {"field": "x", "type": "quantitative", "axis": null}, "y": {"field": "y", "type": "quantitative"}}}
    ]},
    {"data": {"name": "m3"}, "mark": {"type": "text", "align": "left", "baseline": "top", "dy": 1, "fontSize": 7, "color": "#555555"}, "encoding": {"x": {"datum": 0.079, "type": "quantitative", "axis": {"orient": "bottom", "tickCount": 16, "tickSize": 3, "offset": -3, "labels": false, "title": null, "minExtent": 0, "maxExtent": 0}}, "y": {"datum": 47.6, "type": "quantitative", "scale": {"domain": [-4.3, 47.6], "nice": false, "zero": false}, "axis": {"orient": "left", "tickCount": 26, "tickSize": 3, "offset": -3, "labels": false, "title": null, "minExtent": 0, "maxExtent": 0}}, "text": {"field": "a1"}}},
    {"data": {"name": "m3"}, "mark": {"type": "text", "align": "left", "baseline": "top", "dy": 9, "fontSize": 7, "color": "#4d4dff"}, "encoding": {"x": {"datum": 0.079, "type": "quantitative", "axis": {"orient": "top", "tickCount": 16, "tickSize": 3, "offset": -3, "labels": false, "title": null, "minExtent": 0, "maxExtent": 0}}, "y": {"datum": 0.0114, "type": "quantitative", "scale": {"domain": [-0.00103, 0.0114], "nice": false, "zero": false}, "axis": {"orient": "right", "tickCount": 12, "tickSize": 3, "offset": -3, "labels": false, "title": null, "minExtent": 0, "maxExtent": 0}}, "text": {"field": "a2"}}}
   ]}
  ]}
 ]},
 {"spacing": 15, "hconcat": [
  {"spacing": 0, "bounds": "flush", "vconcat": [
   {"width": 294, "height": 147, "resolve": {"axis": {"x": "independent", "y": "independent"}}, "layer": [
    {"data": {"name": "t4"}, "mark": {"type": "line", "color": "#c8c8c8", "strokeWidth": 5, "clip": true}, "encoding": {"x": {"field": "x", "type": "quantitative", "scale": {"domain": [2.014, 3.1], "nice": false, "zero": false}, "axis": {"values": [2.2,2.4,2.6,2.8,3.0], "tickCount": 50, "labels": false, "title": null, "minExtent": 0, "maxExtent": 0}}, "y": {"field": "y", "type": "quantitative", "scale": {"domain": [1.0178, 1.0756], "nice": false, "zero": false}, "axis": {"values": [1.02,1.03,1.04,1.05,1.06,1.07], "tickCount": 50, "format": ".2f", "title": "CoRoT flux [norm.]", "minExtent": 42, "maxExtent": 42, "titlePadding": 4}}}},
    {"data": {"name": "f4"}, "mark": {"type": "square", "color": "#0000ff", "size": 14, "opacity": 1, "clip": true}, "encoding": {"x": {"field": "x", "type": "quantitative", "axis": {"orient": "top", "values": [2.2,2.4,2.6,2.8,3.0], "tickCount": 50, "labels": false, "title": null, "minExtent": 0, "maxExtent": 0}}, "y": {"field": "y", "type": "quantitative", "axis": {"orient": "right", "values": [1.02,1.03,1.04,1.05,1.06,1.07], "tickCount": 50, "labels": false, "title": null, "minExtent": 0, "maxExtent": 0}}}},
    {"data": {"name": "m4"}, "mark": {"type": "text", "align": "left", "baseline": "top", "dx": 4, "dy": 2, "fontSize": 13}, "encoding": {"x": {"datum": 2.014, "type": "quantitative", "axis": {"orient": "bottom", "tickCount": 21, "tickSize": 3, "offset": -3, "labels": false, "title": null, "minExtent": 0, "maxExtent": 0}}, "y": {"datum": 1.0756, "type": "quantitative", "axis": {"orient": "left", "tickCount": 29, "tickSize": 3, "offset": -3, "labels": false, "title": null, "minExtent": 0, "maxExtent": 0}}, "text": {"field": "id"}}},
    {"data": {"name": "m4"}, "mark": {"type": "text", "align": "right", "baseline": "top", "dx": -4, "dy": 2, "fontSize": 13}, "encoding": {"x": {"datum": 3.1, "type": "quantitative", "axis": {"orient": "top", "tickCount": 21, "tickSize": 3, "offset": -3, "labels": false, "title": null, "minExtent": 0, "maxExtent": 0}}, "y": {"datum": 1.0756, "type": "quantitative", "axis": {"orient": "right", "tickCount": 29, "tickSize": 3, "offset": -3, "labels": false, "title": null, "minExtent": 0, "maxExtent": 0}}, "text": {"field": "cls"}}}
   ]},
   {"width": 294, "height": 149, "resolve": {"scale": {"y": "independent"}, "axis": {"x": "independent", "y": "independent"}}, "layer": [
    {"layer": [
     {"data": {"name": "c4"}, "mark": {"type": "area", "color": "#d9d9d9", "opacity": 1, "clip": true}, "encoding": {"x": {"field": "x", "type": "quantitative", "scale": {"domain": [2.014, 3.1], "nice": false, "zero": false}, "axis": {"values": [2.2,2.4,2.6,2.8,3.0], "tickCount": 50, "format": ".1f", "title": "MJD - 55898.1", "minExtent": 24, "maxExtent": 24, "titlePadding": 3}}, "y": {"field": "f", "type": "quantitative", "scale": {"domain": [-0.00128, 0.01312], "nice": false, "zero": false}, "axis": {"orient": "right", "values": [0,0.002,0.004,0.006,0.008,0.01,0.012], "tickCount": 50, "format": ".3f", "title": "CoRoT flux [norm. - detrended]", "labelFontSize": 9.5, "titleFontSize": 10, "titleColor": "#333333", "minExtent": 30, "maxExtent": 30, "titlePadding": 2}}, "y2": {"datum": 0}}},
     {"data": {"name": "c4"}, "mark": {"type": "line", "color": "#2222ff", "strokeWidth": 1, "clip": true}, "encoding": {"x": {"field": "x", "type": "quantitative"}, "y": {"field": "v", "type": "quantitative"}}}
    ]},
    {"layer": [
     {"data": {"name": "m4"}, "mark": {"type": "rule", "color": "#b4b4b4", "strokeWidth": 2}, "encoding": {"y": {"datum": 0, "type": "quantitative", "scale": {"domain": [-0.0237, 0.2433], "nice": false, "zero": false}, "axis": {"orient": "left", "values": [0,0.05,0.1,0.15,0.2], "tickCount": 50, "format": ".2f", "title": "[0.5-8.0keV] Cnts/Ks/cm⁻²", "titleY": 84, "minExtent": 42, "maxExtent": 42, "titlePadding": 4}}}},
     {"data": {"name": "m4"}, "mark": {"type": "rule", "color": "#999999", "strokeDash": [2,2], "strokeWidth": 1}, "encoding": {"y": {"field": "dot", "type": "quantitative"}}},
     {"data": {"name": "b4"}, "mark": {"type": "line", "interpolate": "step-after", "color": "#aaaaaa", "strokeWidth": 1.2, "clip": true}, "encoding": {"x": {"field": "x", "type": "quantitative", "axis": null}, "y": {"field": "y", "type": "quantitative"}}},
     {"data": {"name": "b4"}, "mark": {"type": "rule", "color": "black", "strokeWidth": 1.8, "clip": true}, "encoding": {"x": {"field": "x", "type": "quantitative", "axis": {"orient": "top", "values": [2.2,2.4,2.6,2.8,3.0], "tickCount": 50, "labels": false, "title": null, "minExtent": 0, "maxExtent": 0}}, "x2": {"field": "x2"}, "y": {"field": "y", "type": "quantitative"}}},
     {"data": {"name": "m4"}, "mark": {"type": "rule", "color": "#ff33ff", "strokeWidth": 1.5, "clip": true}, "encoding": {"x": {"field": "mx", "type": "quantitative", "axis": null}, "x2": {"field": "mx2"}, "y": {"field": "my", "type": "quantitative"}}},
     {"data": {"name": "e4"}, "mark": {"type": "rule", "color": "black", "strokeWidth": 1.5, "clip": true}, "encoding": {"x": {"field": "x", "type": "quantitative", "axis": null}, "y": {"field": "lo", "type": "quantitative"}, "y2": {"field": "hi"}}},
     {"data": {"name": "e4"}, "mark": {"type": "circle", "color": "black", "size": 30, "opacity": 1, "clip": true}, "encoding": {"x": {"field": "x", "type": "quantitative", "axis": null}, "y": {"field": "y", "type": "quantitative"}}}
    ]},
    {"data": {"name": "m4"}, "mark": {"type": "text", "align": "left", "baseline": "top", "dy": 1, "fontSize": 7, "color": "#555555"}, "encoding": {"x": {"datum": 2.288, "type": "quantitative", "axis": {"orient": "bottom", "tickCount": 21, "tickSize": 3, "offset": -3, "labels": false, "title": null, "minExtent": 0, "maxExtent": 0}}, "y": {"datum": 0.2433, "type": "quantitative", "scale": {"domain": [-0.0237, 0.2433], "nice": false, "zero": false}, "axis": {"orient": "left", "tickCount": 26, "tickSize": 3, "offset": -3, "labels": false, "title": null, "minExtent": 0, "maxExtent": 0}}, "text": {"field": "a1"}}},
    {"data": {"name": "m4"}, "mark": {"type": "text", "align": "left", "baseline": "top", "dy": 9, "fontSize": 7, "color": "#4d4dff"}, "encoding": {"x": {"datum": 2.288, "type": "quantitative", "axis": {"orient": "top", "tickCount": 21, "tickSize": 3, "offset": -3, "labels": false, "title": null, "minExtent": 0, "maxExtent": 0}}, "y": {"datum": 0.01312, "type": "quantitative", "scale": {"domain": [-0.00128, 0.01312], "nice": false, "zero": false}, "axis": {"orient": "right", "tickCount": 14, "tickSize": 3, "offset": -3, "labels": false, "title": null, "minExtent": 0, "maxExtent": 0}}, "text": {"field": "a2"}}}
   ]}
  ]},
  {"spacing": 0, "bounds": "flush", "vconcat": [
   {"width": 303, "height": 147, "resolve": {"axis": {"x": "independent", "y": "independent"}}, "layer": [
    {"data": {"name": "t5"}, "mark": {"type": "line", "color": "#c8c8c8", "strokeWidth": 5, "clip": true}, "encoding": {"x": {"field": "x", "type": "quantitative", "scale": {"domain": [4.898, 5.099], "nice": false, "zero": false}, "axis": {"values": [4.9,4.95,5.0,5.05], "tickCount": 50, "labels": false, "title": null, "minExtent": 0, "maxExtent": 0}}, "y": {"field": "y", "type": "quantitative", "scale": {"domain": [0.949, 0.9813], "nice": false, "zero": false}, "axis": {"values": [0.95,0.955,0.96,0.965,0.97,0.975,0.98], "tickCount": 50, "format": ".3f", "labelFlush": 8, "title": "CoRoT flux [norm.]", "minExtent": 42, "maxExtent": 42, "titlePadding": 4}}}},
    {"data": {"name": "f5"}, "mark": {"type": "square", "color": "#0000ff", "size": 14, "opacity": 1, "clip": true}, "encoding": {"x": {"field": "x", "type": "quantitative", "axis": {"orient": "top", "values": [4.9,4.95,5.0,5.05], "tickCount": 50, "labels": false, "title": null, "minExtent": 0, "maxExtent": 0}}, "y": {"field": "y", "type": "quantitative", "axis": {"orient": "right", "values": [0.95,0.955,0.96,0.965,0.97,0.975,0.98], "tickCount": 50, "labels": false, "title": null, "minExtent": 0, "maxExtent": 0}}}},
    {"data": {"name": "m5"}, "mark": {"type": "text", "align": "left", "baseline": "top", "dx": 4, "dy": 2, "fontSize": 13}, "encoding": {"x": {"datum": 4.898, "type": "quantitative", "axis": {"orient": "bottom", "tickCount": 20, "tickSize": 3, "offset": -3, "labels": false, "title": null, "minExtent": 0, "maxExtent": 0}}, "y": {"datum": 0.9813, "type": "quantitative", "axis": {"orient": "left", "tickCount": 32, "tickSize": 3, "offset": -3, "labels": false, "title": null, "minExtent": 0, "maxExtent": 0}}, "text": {"field": "id"}}},
    {"data": {"name": "m5"}, "mark": {"type": "text", "align": "right", "baseline": "top", "dx": -4, "dy": 2, "fontSize": 13}, "encoding": {"x": {"datum": 5.099, "type": "quantitative", "axis": {"orient": "top", "tickCount": 20, "tickSize": 3, "offset": -3, "labels": false, "title": null, "minExtent": 0, "maxExtent": 0}}, "y": {"datum": 0.9813, "type": "quantitative", "axis": {"orient": "right", "tickCount": 32, "tickSize": 3, "offset": -3, "labels": false, "title": null, "minExtent": 0, "maxExtent": 0}}, "text": {"field": "cls"}}}
   ]},
   {"width": 303, "height": 149, "resolve": {"scale": {"y": "independent"}, "axis": {"x": "independent", "y": "independent"}}, "layer": [
    {"layer": [
     {"data": {"name": "c5"}, "mark": {"type": "area", "color": "#d9d9d9", "opacity": 1, "clip": true}, "encoding": {"x": {"field": "x", "type": "quantitative", "scale": {"domain": [4.898, 5.099], "nice": false, "zero": false}, "axis": {"values": [4.9,4.95,5.0,5.05], "tickCount": 50, "format": ".2f", "title": "MJD - 55898.1", "minExtent": 24, "maxExtent": 24, "titlePadding": 3}}, "y": {"field": "f", "type": "quantitative", "scale": {"domain": [-0.00149, 0.0164], "nice": false, "zero": false}, "axis": {"orient": "right", "values": [0,0.005,0.01,0.015], "tickCount": 50, "format": ".3f", "title": "CoRoT flux [norm. - detrended]", "labelFontSize": 9.5, "titleFontSize": 10, "titleColor": "#333333", "minExtent": 30, "maxExtent": 30, "titlePadding": 2}}, "y2": {"datum": 0}}},
     {"data": {"name": "c5"}, "mark": {"type": "line", "color": "#2222ff", "strokeWidth": 1, "clip": true}, "encoding": {"x": {"field": "x", "type": "quantitative"}, "y": {"field": "v", "type": "quantitative"}}}
    ]},
    {"layer": [
     {"data": {"name": "m5"}, "mark": {"type": "rule", "color": "#b4b4b4", "strokeWidth": 2}, "encoding": {"y": {"datum": 0, "type": "quantitative", "scale": {"domain": [-7.44, 82.0], "nice": false, "zero": false}, "axis": {"orient": "left", "values": [0,20,40,60,80], "tickCount": 50, "format": "d", "labelFlush": 8, "title": "[0.5-8.0keV] Cnts/Ms/cm⁻²", "titleY": 84, "minExtent": 42, "maxExtent": 42, "titlePadding": 4}}}},
     {"data": {"name": "m5"}, "mark": {"type": "rule", "color": "#999999", "strokeDash": [2,2], "strokeWidth": 1}, "encoding": {"y": {"field": "dot", "type": "quantitative"}}},
     {"data": {"name": "b5"}, "mark": {"type": "line", "interpolate": "step-after", "color": "#aaaaaa", "strokeWidth": 1.2, "clip": true}, "encoding": {"x": {"field": "x", "type": "quantitative", "axis": null}, "y": {"field": "y", "type": "quantitative"}}},
     {"data": {"name": "b5"}, "mark": {"type": "rule", "color": "black", "strokeWidth": 1.8, "clip": true}, "encoding": {"x": {"field": "x", "type": "quantitative", "axis": {"orient": "top", "values": [4.9,4.95,5.0,5.05], "tickCount": 50, "labels": false, "title": null, "minExtent": 0, "maxExtent": 0}}, "x2": {"field": "x2"}, "y": {"field": "y", "type": "quantitative"}}},
     {"data": {"name": "m5"}, "mark": {"type": "rule", "color": "#ff33ff", "strokeWidth": 1.5, "clip": true}, "encoding": {"x": {"field": "mx", "type": "quantitative", "axis": null}, "x2": {"field": "mx2"}, "y": {"field": "my", "type": "quantitative"}}},
     {"data": {"name": "e5"}, "mark": {"type": "rule", "color": "black", "strokeWidth": 2, "clip": true}, "encoding": {"x": {"field": "x", "type": "quantitative", "axis": null}, "y": {"field": "lo", "type": "quantitative"}, "y2": {"field": "hi"}}},
     {"data": {"name": "e5"}, "mark": {"type": "circle", "color": "black", "size": 36, "opacity": 1, "clip": true}, "encoding": {"x": {"field": "x", "type": "quantitative", "axis": null}, "y": {"field": "y", "type": "quantitative"}}}
    ]},
    {"data": {"name": "m5"}, "mark": {"type": "text", "align": "left", "baseline": "top", "dy": 1, "fontSize": 7, "color": "#555555"}, "encoding": {"x": {"datum": 4.949, "type": "quantitative", "axis": {"orient": "bottom", "tickCount": 20, "tickSize": 3, "offset": -3, "labels": false, "title": null, "minExtent": 0, "maxExtent": 0}}, "y": {"datum": 82.0, "type": "quantitative", "scale": {"domain": [-7.44, 82.0], "nice": false, "zero": false}, "axis": {"orient": "left", "tickCount": 18, "tickSize": 3, "offset": -3, "labels": false, "title": null, "minExtent": 0, "maxExtent": 0}}, "text": {"field": "a1"}}},
    {"data": {"name": "m5"}, "mark": {"type": "text", "align": "left", "baseline": "top", "dy": 9, "fontSize": 7, "color": "#4d4dff"}, "encoding": {"x": {"datum": 4.949, "type": "quantitative", "axis": {"orient": "top", "tickCount": 20, "tickSize": 3, "offset": -3, "labels": false, "title": null, "minExtent": 0, "maxExtent": 0}}, "y": {"datum": 0.0164, "type": "quantitative", "scale": {"domain": [-0.00149, 0.0164], "nice": false, "zero": false}, "axis": {"orient": "right", "tickCount": 17, "tickSize": 3, "offset": -3, "labels": false, "title": null, "minExtent": 0, "maxExtent": 0}}, "text": {"field": "a2"}}}
   ]}
  ]},
  {"spacing": 0, "bounds": "flush", "vconcat": [
   {"width": 294, "height": 147, "resolve": {"axis": {"x": "independent", "y": "independent"}}, "layer": [
    {"data": {"name": "t6"}, "mark": {"type": "line", "color": "#c8c8c8", "strokeWidth": 5, "clip": true}, "encoding": {"x": {"field": "x", "type": "quantitative", "scale": {"domain": [4.397, 5.056], "nice": false, "zero": false}, "axis": {"values": [4.4,4.5,4.6,4.7,4.8,4.9,5.0], "tickCount": 50, "labels": false, "title": null, "minExtent": 0, "maxExtent": 0}}, "y": {"field": "y", "type": "quantitative", "scale": {"domain": [1.1279, 1.1909], "nice": false, "zero": false}, "axis": {"values": [1.13,1.14,1.15,1.16,1.17,1.18,1.19], "tickCount": 50, "format": ".2f", "labelFlush": 8, "title": "CoRoT flux [norm.]", "minExtent": 42, "maxExtent": 42, "titlePadding": 4}}}},
    {"data": {"name": "f6"}, "mark": {"type": "square", "color": "#0000ff", "size": 14, "opacity": 1, "clip": true}, "encoding": {"x": {"field": "x", "type": "quantitative", "axis": {"orient": "top", "values": [4.4,4.5,4.6,4.7,4.8,4.9,5.0], "tickCount": 50, "labels": false, "title": null, "minExtent": 0, "maxExtent": 0}}, "y": {"field": "y", "type": "quantitative", "axis": {"orient": "right", "values": [1.13,1.14,1.15,1.16,1.17,1.18,1.19], "tickCount": 50, "labels": false, "title": null, "minExtent": 0, "maxExtent": 0}}}},
    {"data": {"name": "m6"}, "mark": {"type": "text", "align": "left", "baseline": "top", "dx": 4, "dy": 2, "fontSize": 13}, "encoding": {"x": {"datum": 4.397, "type": "quantitative", "axis": {"orient": "bottom", "tickCount": 33, "tickSize": 3, "offset": -3, "labels": false, "title": null, "minExtent": 0, "maxExtent": 0}}, "y": {"datum": 1.1909, "type": "quantitative", "axis": {"orient": "left", "tickCount": 31, "tickSize": 3, "offset": -3, "labels": false, "title": null, "minExtent": 0, "maxExtent": 0}}, "text": {"field": "id"}}},
    {"data": {"name": "m6"}, "mark": {"type": "text", "align": "right", "baseline": "top", "dx": -4, "dy": 2, "fontSize": 13}, "encoding": {"x": {"datum": 5.056, "type": "quantitative", "axis": {"orient": "top", "tickCount": 33, "tickSize": 3, "offset": -3, "labels": false, "title": null, "minExtent": 0, "maxExtent": 0}}, "y": {"datum": 1.1909, "type": "quantitative", "axis": {"orient": "right", "tickCount": 31, "tickSize": 3, "offset": -3, "labels": false, "title": null, "minExtent": 0, "maxExtent": 0}}, "text": {"field": "cls"}}}
   ]},
   {"width": 294, "height": 149, "resolve": {"scale": {"y": "independent"}, "axis": {"x": "independent", "y": "independent"}}, "layer": [
    {"layer": [
     {"data": {"name": "c6"}, "mark": {"type": "area", "color": "#d9d9d9", "opacity": 1, "clip": true}, "encoding": {"x": {"field": "x", "type": "quantitative", "scale": {"domain": [4.397, 5.056], "nice": false, "zero": false}, "axis": {"values": [4.4,4.5,4.6,4.7,4.8,4.9,5.0], "tickCount": 50, "format": ".1f", "title": "MJD - 55898.1", "minExtent": 24, "maxExtent": 24, "titlePadding": 3}}, "y": {"field": "f", "type": "quantitative", "scale": {"domain": [-0.0007, 0.0088], "nice": false, "zero": false}, "axis": {"orient": "right", "values": [0,0.002,0.004,0.006,0.008], "tickCount": 50, "format": ".3f", "title": "CoRoT flux [norm. - detrended]", "labelFontSize": 9.5, "titleFontSize": 10, "titleColor": "#333333", "minExtent": 30, "maxExtent": 30, "titlePadding": 2}}, "y2": {"datum": 0}}},
     {"data": {"name": "c6"}, "mark": {"type": "line", "color": "#2222ff", "strokeWidth": 1, "clip": true}, "encoding": {"x": {"field": "x", "type": "quantitative"}, "y": {"field": "v", "type": "quantitative"}}}
    ]},
    {"layer": [
     {"data": {"name": "m6"}, "mark": {"type": "rule", "color": "#b4b4b4", "strokeWidth": 2}, "encoding": {"y": {"datum": 0, "type": "quantitative", "scale": {"domain": [-3.3, 41.5], "nice": false, "zero": false}, "axis": {"orient": "left", "values": [0,10,20,30,40], "tickCount": 50, "format": "d", "labelFlush": 8, "title": "[0.5-8.0keV] Cnts/Ms/cm⁻²", "titleY": 84, "minExtent": 42, "maxExtent": 42, "titlePadding": 4}}}},
     {"data": {"name": "m6"}, "mark": {"type": "rule", "color": "#999999", "strokeDash": [2,2], "strokeWidth": 1}, "encoding": {"y": {"field": "dot", "type": "quantitative"}}},
     {"data": {"name": "b6"}, "mark": {"type": "line", "interpolate": "step-after", "color": "#aaaaaa", "strokeWidth": 1.2, "clip": true}, "encoding": {"x": {"field": "x", "type": "quantitative", "axis": null}, "y": {"field": "y", "type": "quantitative"}}},
     {"data": {"name": "b6"}, "mark": {"type": "rule", "color": "black", "strokeWidth": 1.8, "clip": true}, "encoding": {"x": {"field": "x", "type": "quantitative", "axis": {"orient": "top", "values": [4.4,4.5,4.6,4.7,4.8,4.9,5.0], "tickCount": 50, "labels": false, "title": null, "minExtent": 0, "maxExtent": 0}}, "x2": {"field": "x2"}, "y": {"field": "y", "type": "quantitative"}}},
     {"data": {"name": "m6"}, "mark": {"type": "rule", "color": "#ff33ff", "strokeWidth": 1.5, "clip": true}, "encoding": {"x": {"field": "mx", "type": "quantitative", "axis": null}, "x2": {"field": "mx2"}, "y": {"field": "my", "type": "quantitative"}}},
     {"data": {"name": "e6"}, "mark": {"type": "rule", "color": "black", "strokeWidth": 2, "clip": true}, "encoding": {"x": {"field": "x", "type": "quantitative", "axis": null}, "y": {"field": "lo", "type": "quantitative"}, "y2": {"field": "hi"}}},
     {"data": {"name": "e6"}, "mark": {"type": "circle", "color": "black", "size": 36, "opacity": 1, "clip": true}, "encoding": {"x": {"field": "x", "type": "quantitative", "axis": null}, "y": {"field": "y", "type": "quantitative"}}}
    ]},
    {"data": {"name": "m6"}, "mark": {"type": "text", "align": "left", "baseline": "top", "dy": 1, "fontSize": 7, "color": "#555555"}, "encoding": {"x": {"datum": 4.563, "type": "quantitative", "axis": {"orient": "bottom", "tickCount": 33, "tickSize": 3, "offset": -3, "labels": false, "title": null, "minExtent": 0, "maxExtent": 0}}, "y": {"datum": 41.5, "type": "quantitative", "scale": {"domain": [-3.3, 41.5], "nice": false, "zero": false}, "axis": {"orient": "left", "tickCount": 22, "tickSize": 3, "offset": -3, "labels": false, "title": null, "minExtent": 0, "maxExtent": 0}}, "text": {"field": "a1"}}},
    {"data": {"name": "m6"}, "mark": {"type": "text", "align": "left", "baseline": "top", "dy": 9, "fontSize": 7, "color": "#4d4dff"}, "encoding": {"x": {"datum": 4.563, "type": "quantitative", "axis": {"orient": "top", "tickCount": 33, "tickSize": 3, "offset": -3, "labels": false, "title": null, "minExtent": 0, "maxExtent": 0}}, "y": {"datum": 0.0088, "type": "quantitative", "scale": {"domain": [-0.0007, 0.0088], "nice": false, "zero": false}, "axis": {"orient": "right", "tickCount": 19, "tickSize": 3, "offset": -3, "labels": false, "title": null, "minExtent": 0, "maxExtent": 0}}, "text": {"field": "a2"}}}
   ]}
  ]}
 ]},
 {"spacing": 15, "hconcat": [
  {"spacing": 0, "bounds": "flush", "vconcat": [
   {"width": 294, "height": 147, "resolve": {"axis": {"x": "independent", "y": "independent"}}, "layer": [
    {"data": {"name": "t7"}, "mark": {"type": "line", "color": "#c8c8c8", "strokeWidth": 5, "clip": true}, "encoding": {"x": {"field": "x", "type": "quantitative", "scale": {"domain": [15.471, 16.6], "nice": false, "zero": false}, "axis": {"values": [15.6,15.8,16.0,16.2,16.4,16.6], "tickCount": 50, "labels": false, "title": null, "minExtent": 0, "maxExtent": 0}}, "y": {"field": "y", "type": "quantitative", "scale": {"domain": [0.9318, 1.0231], "nice": false, "zero": false}, "axis": {"values": [0.94,0.96,0.98,1.0,1.02], "tickCount": 50, "format": ".2f", "title": "CoRoT flux [norm.]", "minExtent": 42, "maxExtent": 42, "titlePadding": 4}}}},
    {"data": {"name": "f7"}, "mark": {"type": "square", "color": "#0000ff", "size": 14, "opacity": 1, "clip": true}, "encoding": {"x": {"field": "x", "type": "quantitative", "axis": {"orient": "top", "values": [15.6,15.8,16.0,16.2,16.4,16.6], "tickCount": 50, "labels": false, "title": null, "minExtent": 0, "maxExtent": 0}}, "y": {"field": "y", "type": "quantitative", "axis": {"orient": "right", "values": [0.94,0.96,0.98,1.0,1.02], "tickCount": 50, "labels": false, "title": null, "minExtent": 0, "maxExtent": 0}}}},
    {"data": {"name": "m7"}, "mark": {"type": "text", "align": "left", "baseline": "top", "dx": 4, "dy": 2, "fontSize": 13}, "encoding": {"x": {"datum": 15.471, "type": "quantitative", "axis": {"orient": "bottom", "tickCount": 22, "tickSize": 3, "offset": -3, "labels": false, "title": null, "minExtent": 0, "maxExtent": 0}}, "y": {"datum": 1.0231, "type": "quantitative", "axis": {"orient": "left", "tickCount": 18, "tickSize": 3, "offset": -3, "labels": false, "title": null, "minExtent": 0, "maxExtent": 0}}, "text": {"field": "id"}}},
    {"data": {"name": "m7"}, "mark": {"type": "text", "align": "right", "baseline": "top", "dx": -4, "dy": 2, "fontSize": 13}, "encoding": {"x": {"datum": 16.6, "type": "quantitative", "axis": {"orient": "top", "tickCount": 22, "tickSize": 3, "offset": -3, "labels": false, "title": null, "minExtent": 0, "maxExtent": 0}}, "y": {"datum": 1.0231, "type": "quantitative", "axis": {"orient": "right", "tickCount": 18, "tickSize": 3, "offset": -3, "labels": false, "title": null, "minExtent": 0, "maxExtent": 0}}, "text": {"field": "cls"}}}
   ]},
   {"width": 294, "height": 149, "resolve": {"scale": {"y": "independent"}, "axis": {"x": "independent", "y": "independent"}}, "layer": [
    {"layer": [
     {"data": {"name": "c7"}, "mark": {"type": "area", "color": "#d9d9d9", "opacity": 1, "clip": true}, "encoding": {"x": {"field": "x", "type": "quantitative", "scale": {"domain": [15.471, 16.6], "nice": false, "zero": false}, "axis": {"values": [15.6,15.8,16.0,16.2,16.4,16.6], "tickCount": 50, "format": ".1f", "title": "MJD - 54537.8", "minExtent": 24, "maxExtent": 24, "titlePadding": 3}}, "y": {"field": "f", "type": "quantitative", "scale": {"domain": [-0.0026, 0.0282], "nice": false, "zero": false}, "axis": {"orient": "right", "values": [0,0.005,0.01,0.015,0.02,0.025], "tickCount": 50, "format": ".3f", "title": "CoRoT flux [norm. - detrended]", "labelFontSize": 9.5, "titleFontSize": 10, "titleColor": "#333333", "minExtent": 30, "maxExtent": 30, "titlePadding": 2}}, "y2": {"datum": 0}}},
     {"data": {"name": "c7"}, "mark": {"type": "line", "color": "#2222ff", "strokeWidth": 1, "clip": true}, "encoding": {"x": {"field": "x", "type": "quantitative"}, "y": {"field": "v", "type": "quantitative"}}}
    ]},
    {"layer": [
     {"data": {"name": "m7"}, "mark": {"type": "rule", "color": "#b4b4b4", "strokeWidth": 2}, "encoding": {"y": {"datum": 0, "type": "quantitative", "scale": {"domain": [-3.2, 34.7], "nice": false, "zero": false}, "axis": {"orient": "left", "values": [0,10,20,30], "tickCount": 50, "format": "d", "title": "[0.5-8.0keV] Cnts/Ms/cm⁻²", "titleY": 84, "minExtent": 42, "maxExtent": 42, "titlePadding": 4}}}},
     {"data": {"name": "m7"}, "mark": {"type": "rule", "color": "#999999", "strokeDash": [2,2], "strokeWidth": 1}, "encoding": {"y": {"field": "dot", "type": "quantitative"}}},
     {"data": {"name": "b7"}, "mark": {"type": "line", "interpolate": "step-after", "color": "#aaaaaa", "strokeWidth": 1.2, "clip": true}, "encoding": {"x": {"field": "x", "type": "quantitative", "axis": null}, "y": {"field": "y", "type": "quantitative"}}},
     {"data": {"name": "b7"}, "mark": {"type": "rule", "color": "black", "strokeWidth": 1.8, "clip": true}, "encoding": {"x": {"field": "x", "type": "quantitative", "axis": {"orient": "top", "values": [15.6,15.8,16.0,16.2,16.4,16.6], "tickCount": 50, "labels": false, "title": null, "minExtent": 0, "maxExtent": 0}}, "x2": {"field": "x2"}, "y": {"field": "y", "type": "quantitative"}}},
     {"data": {"name": "m7"}, "mark": {"type": "rule", "color": "#ff33ff", "strokeWidth": 1.5, "clip": true}, "encoding": {"x": {"field": "mx", "type": "quantitative", "axis": null}, "x2": {"field": "mx2"}, "y": {"field": "my", "type": "quantitative"}}},
     {"data": {"name": "e7"}, "mark": {"type": "rule", "color": "black", "strokeWidth": 2, "clip": true}, "encoding": {"x": {"field": "x", "type": "quantitative", "axis": null}, "y": {"field": "lo", "type": "quantitative"}, "y2": {"field": "hi"}}},
     {"data": {"name": "e7"}, "mark": {"type": "circle", "color": "black", "size": 36, "opacity": 1, "clip": true}, "encoding": {"x": {"field": "x", "type": "quantitative", "axis": null}, "y": {"field": "y", "type": "quantitative"}}}
    ]},
    {"data": {"name": "m7"}, "mark": {"type": "text", "align": "left", "baseline": "top", "dy": 1, "fontSize": 7, "color": "#555555"}, "encoding": {"x": {"datum": 15.755, "type": "quantitative", "axis": {"orient": "bottom", "tickCount": 22, "tickSize": 3, "offset": -3, "labels": false, "title": null, "minExtent": 0, "maxExtent": 0}}, "y": {"datum": 34.7, "type": "quantitative", "scale": {"domain": [-3.2, 34.7], "nice": false, "zero": false}, "axis": {"orient": "left", "tickCount": 19, "tickSize": 3, "offset": -3, "labels": false, "title": null, "minExtent": 0, "maxExtent": 0}}, "text": {"field": "a1"}}},
    {"data": {"name": "m7"}, "mark": {"type": "text", "align": "left", "baseline": "top", "dy": 9, "fontSize": 7, "color": "#4d4dff"}, "encoding": {"x": {"datum": 15.755, "type": "quantitative", "axis": {"orient": "top", "tickCount": 22, "tickSize": 3, "offset": -3, "labels": false, "title": null, "minExtent": 0, "maxExtent": 0}}, "y": {"datum": 0.0282, "type": "quantitative", "scale": {"domain": [-0.0026, 0.0282], "nice": false, "zero": false}, "axis": {"orient": "right", "tickCount": 30, "tickSize": 3, "offset": -3, "labels": false, "title": null, "minExtent": 0, "maxExtent": 0}}, "text": {"field": "a2"}}}
   ]}
  ]},
  {"spacing": 0, "bounds": "flush", "vconcat": [
   {"width": 303, "height": 147, "resolve": {"axis": {"x": "independent", "y": "independent"}}, "layer": [
    {"data": {"name": "t8"}, "mark": {"type": "line", "color": "#c8c8c8", "strokeWidth": 5, "clip": true}, "encoding": {"x": {"field": "x", "type": "quantitative", "scale": {"domain": [5.147, 5.925], "nice": false, "zero": false}, "axis": {"values": [5.2,5.3,5.4,5.5,5.6,5.7,5.8,5.9], "tickCount": 50, "labels": false, "title": null, "minExtent": 0, "maxExtent": 0}}, "y": {"field": "y", "type": "quantitative", "scale": {"domain": [0.9324, 1.1443], "nice": false, "zero": false}, "axis": {"values": [0.95,1.0,1.05,1.1], "tickCount": 50, "format": ".2f", "title": "CoRoT flux [norm.]", "minExtent": 42, "maxExtent": 42, "titlePadding": 4}}}},
    {"data": {"name": "f8"}, "mark": {"type": "square", "color": "#0000ff", "size": 14, "opacity": 1, "clip": true}, "encoding": {"x": {"field": "x", "type": "quantitative", "axis": {"orient": "top", "values": [5.2,5.3,5.4,5.5,5.6,5.7,5.8,5.9], "tickCount": 50, "labels": false, "title": null, "minExtent": 0, "maxExtent": 0}}, "y": {"field": "y", "type": "quantitative", "axis": {"orient": "right", "values": [0.95,1.0,1.05,1.1], "tickCount": 50, "labels": false, "title": null, "minExtent": 0, "maxExtent": 0}}}},
    {"data": {"name": "m8"}, "mark": {"type": "text", "align": "left", "baseline": "top", "dx": 4, "dy": 2, "fontSize": 13}, "encoding": {"x": {"datum": 5.147, "type": "quantitative", "axis": {"orient": "bottom", "tickCount": 38, "tickSize": 3, "offset": -3, "labels": false, "title": null, "minExtent": 0, "maxExtent": 0}}, "y": {"datum": 1.1443, "type": "quantitative", "axis": {"orient": "left", "tickCount": 21, "tickSize": 3, "offset": -3, "labels": false, "title": null, "minExtent": 0, "maxExtent": 0}}, "text": {"field": "id"}}},
    {"data": {"name": "m8"}, "mark": {"type": "text", "align": "right", "baseline": "top", "dx": -4, "dy": 2, "fontSize": 13}, "encoding": {"x": {"datum": 5.925, "type": "quantitative", "axis": {"orient": "top", "tickCount": 38, "tickSize": 3, "offset": -3, "labels": false, "title": null, "minExtent": 0, "maxExtent": 0}}, "y": {"datum": 1.1443, "type": "quantitative", "axis": {"orient": "right", "tickCount": 21, "tickSize": 3, "offset": -3, "labels": false, "title": null, "minExtent": 0, "maxExtent": 0}}, "text": {"field": "cls"}}}
   ]},
   {"width": 303, "height": 149, "resolve": {"scale": {"y": "independent"}, "axis": {"x": "independent", "y": "independent"}}, "layer": [
    {"layer": [
     {"data": {"name": "c8"}, "mark": {"type": "area", "color": "#d9d9d9", "opacity": 1, "clip": true}, "encoding": {"x": {"field": "x", "type": "quantitative", "scale": {"domain": [5.147, 5.925], "nice": false, "zero": false}, "axis": {"values": [5.2,5.3,5.4,5.5,5.6,5.7,5.8,5.9], "tickCount": 50, "format": ".1f", "title": "MJD - 55898.1", "minExtent": 24, "maxExtent": 24, "titlePadding": 3}}, "y": {"field": "f", "type": "quantitative", "scale": {"domain": [-0.00177, 0.0192], "nice": false, "zero": false}, "axis": {"orient": "right", "values": [0,0.005,0.01,0.015], "tickCount": 50, "format": ".3f", "title": "CoRoT flux [norm. - detrended]", "labelFontSize": 9.5, "titleFontSize": 10, "titleColor": "#333333", "minExtent": 30, "maxExtent": 30, "titlePadding": 2}}, "y2": {"datum": 0}}},
     {"data": {"name": "c8"}, "mark": {"type": "line", "color": "#2222ff", "strokeWidth": 1, "clip": true}, "encoding": {"x": {"field": "x", "type": "quantitative"}, "y": {"field": "v", "type": "quantitative"}}}
    ]},
    {"layer": [
     {"data": {"name": "m8"}, "mark": {"type": "rule", "color": "#b4b4b4", "strokeWidth": 2}, "encoding": {"y": {"datum": 0, "type": "quantitative", "scale": {"domain": [-1.83, 19.8], "nice": false, "zero": false}, "axis": {"orient": "left", "values": [0,5,10,15], "tickCount": 50, "format": "d", "title": "[0.5-8.0keV] Cnts/Ms/cm⁻²", "titleY": 84, "minExtent": 42, "maxExtent": 42, "titlePadding": 4}}}},
     {"data": {"name": "m8"}, "mark": {"type": "rule", "color": "#999999", "strokeDash": [2,2], "strokeWidth": 1}, "encoding": {"y": {"field": "dot", "type": "quantitative"}}},
     {"data": {"name": "b8"}, "mark": {"type": "line", "interpolate": "step-after", "color": "#aaaaaa", "strokeWidth": 1.2, "clip": true}, "encoding": {"x": {"field": "x", "type": "quantitative", "axis": null}, "y": {"field": "y", "type": "quantitative"}}},
     {"data": {"name": "b8"}, "mark": {"type": "rule", "color": "black", "strokeWidth": 1.8, "clip": true}, "encoding": {"x": {"field": "x", "type": "quantitative", "axis": {"orient": "top", "values": [5.2,5.3,5.4,5.5,5.6,5.7,5.8,5.9], "tickCount": 50, "labels": false, "title": null, "minExtent": 0, "maxExtent": 0}}, "x2": {"field": "x2"}, "y": {"field": "y", "type": "quantitative"}}},
     {"data": {"name": "m8"}, "mark": {"type": "rule", "color": "#ff33ff", "strokeWidth": 1.5, "clip": true}, "encoding": {"x": {"field": "mx", "type": "quantitative", "axis": null}, "x2": {"field": "mx2"}, "y": {"field": "my", "type": "quantitative"}}},
     {"data": {"name": "e8"}, "mark": {"type": "rule", "color": "black", "strokeWidth": 2, "clip": true}, "encoding": {"x": {"field": "x", "type": "quantitative", "axis": null}, "y": {"field": "lo", "type": "quantitative"}, "y2": {"field": "hi"}}},
     {"data": {"name": "e8"}, "mark": {"type": "circle", "color": "black", "size": 36, "opacity": 1, "clip": true}, "encoding": {"x": {"field": "x", "type": "quantitative", "axis": null}, "y": {"field": "y", "type": "quantitative"}}}
    ]},
    {"data": {"name": "m8"}, "mark": {"type": "text", "align": "left", "baseline": "top", "dy": 1, "fontSize": 7, "color": "#555555"}, "encoding": {"x": {"datum": 5.341, "type": "quantitative", "axis": {"orient": "bottom", "tickCount": 38, "tickSize": 3, "offset": -3, "labels": false, "title": null, "minExtent": 0, "maxExtent": 0}}, "y": {"datum": 19.8, "type": "quantitative", "scale": {"domain": [-1.83, 19.8], "nice": false, "zero": false}, "axis": {"orient": "left", "tickCount": 21, "tickSize": 3, "offset": -3, "labels": false, "title": null, "minExtent": 0, "maxExtent": 0}}, "text": {"field": "a1"}}},
    {"data": {"name": "m8"}, "mark": {"type": "text", "align": "left", "baseline": "top", "dy": 9, "fontSize": 7, "color": "#4d4dff"}, "encoding": {"x": {"datum": 5.341, "type": "quantitative", "axis": {"orient": "top", "tickCount": 38, "tickSize": 3, "offset": -3, "labels": false, "title": null, "minExtent": 0, "maxExtent": 0}}, "y": {"datum": 0.0192, "type": "quantitative", "scale": {"domain": [-0.00177, 0.0192], "nice": false, "zero": false}, "axis": {"orient": "right", "tickCount": 21, "tickSize": 3, "offset": -3, "labels": false, "title": null, "minExtent": 0, "maxExtent": 0}}, "text": {"field": "a2"}}}
   ]}
  ]},
  {"spacing": 0, "bounds": "flush", "vconcat": [
   {"width": 294, "height": 147, "resolve": {"axis": {"x": "independent", "y": "independent"}}, "layer": [
    {"data": {"name": "t9"}, "mark": {"type": "line", "color": "#c8c8c8", "strokeWidth": 5, "clip": true}, "encoding": {"x": {"field": "x", "type": "quantitative", "scale": {"domain": [5.145, 5.94], "nice": false, "zero": false}, "axis": {"values": [5.2,5.3,5.4,5.5,5.6,5.7,5.8,5.9], "tickCount": 50, "labels": false, "title": null, "minExtent": 0, "maxExtent": 0}}, "y": {"field": "y", "type": "quantitative", "scale": {"domain": [0.8772, 1.1942], "nice": false, "zero": false}, "axis": {"values": [0.9,0.95,1.0,1.05,1.1,1.15], "tickCount": 50, "format": ".2f", "title": "CoRoT flux [norm.]", "minExtent": 42, "maxExtent": 42, "titlePadding": 4}}}},
    {"data": {"name": "f9"}, "mark": {"type": "square", "color": "#0000ff", "size": 14, "opacity": 1, "clip": true}, "encoding": {"x": {"field": "x", "type": "quantitative", "axis": {"orient": "top", "values": [5.2,5.3,5.4,5.5,5.6,5.7,5.8,5.9], "tickCount": 50, "labels": false, "title": null, "minExtent": 0, "maxExtent": 0}}, "y": {"field": "y", "type": "quantitative", "axis": {"orient": "right", "values": [0.9,0.95,1.0,1.05,1.1,1.15], "tickCount": 50, "labels": false, "title": null, "minExtent": 0, "maxExtent": 0}}}},
    {"data": {"name": "m9"}, "mark": {"type": "text", "align": "left", "baseline": "top", "dx": 4, "dy": 2, "fontSize": 13}, "encoding": {"x": {"datum": 5.145, "type": "quantitative", "axis": {"orient": "bottom", "tickCount": 39, "tickSize": 3, "offset": -3, "labels": false, "title": null, "minExtent": 0, "maxExtent": 0}}, "y": {"datum": 1.1942, "type": "quantitative", "axis": {"orient": "left", "tickCount": 31, "tickSize": 3, "offset": -3, "labels": false, "title": null, "minExtent": 0, "maxExtent": 0}}, "text": {"field": "id"}}},
    {"data": {"name": "m9"}, "mark": {"type": "text", "align": "right", "baseline": "top", "dx": -4, "dy": 2, "fontSize": 13}, "encoding": {"x": {"datum": 5.94, "type": "quantitative", "axis": {"orient": "top", "tickCount": 39, "tickSize": 3, "offset": -3, "labels": false, "title": null, "minExtent": 0, "maxExtent": 0}}, "y": {"datum": 1.1942, "type": "quantitative", "axis": {"orient": "right", "tickCount": 31, "tickSize": 3, "offset": -3, "labels": false, "title": null, "minExtent": 0, "maxExtent": 0}}, "text": {"field": "cls"}}}
   ]},
   {"width": 294, "height": 149, "resolve": {"scale": {"y": "independent"}, "axis": {"x": "independent", "y": "independent"}}, "layer": [
    {"layer": [
     {"data": {"name": "c9"}, "mark": {"type": "area", "color": "#d9d9d9", "opacity": 1, "clip": true}, "encoding": {"x": {"field": "x", "type": "quantitative", "scale": {"domain": [5.145, 5.94], "nice": false, "zero": false}, "axis": {"values": [5.2,5.3,5.4,5.5,5.6,5.7,5.8,5.9], "tickCount": 50, "format": ".1f", "title": "MJD - 55898.1", "minExtent": 24, "maxExtent": 24, "titlePadding": 3}}, "y": {"field": "f", "type": "quantitative", "scale": {"domain": [-0.00245, 0.0266], "nice": false, "zero": false}, "axis": {"orient": "right", "values": [0,0.005,0.01,0.015,0.02,0.025], "tickCount": 50, "format": ".3f", "title": "CoRoT flux [norm. - detrended]", "labelFontSize": 9.5, "titleFontSize": 10, "titleColor": "#333333", "minExtent": 30, "maxExtent": 30, "titlePadding": 2}}, "y2": {"datum": 0}}},
     {"data": {"name": "c9"}, "mark": {"type": "line", "color": "#2222ff", "strokeWidth": 1, "clip": true}, "encoding": {"x": {"field": "x", "type": "quantitative"}, "y": {"field": "v", "type": "quantitative"}}}
    ]},
    {"layer": [
     {"data": {"name": "m9"}, "mark": {"type": "rule", "color": "#b4b4b4", "strokeWidth": 2}, "encoding": {"y": {"datum": 0, "type": "quantitative", "scale": {"domain": [-3.38, 36.7], "nice": false, "zero": false}, "axis": {"orient": "left", "values": [0,10,20,30], "tickCount": 50, "format": "d", "title": "[0.5-8.0keV] Cnts/Ms/cm⁻²", "titleY": 84, "minExtent": 42, "maxExtent": 42, "titlePadding": 4}}}},
     {"data": {"name": "m9"}, "mark": {"type": "rule", "color": "#999999", "strokeDash": [2,2], "strokeWidth": 1}, "encoding": {"y": {"field": "dot", "type": "quantitative"}}},
     {"data": {"name": "b9"}, "mark": {"type": "line", "interpolate": "step-after", "color": "#aaaaaa", "strokeWidth": 1.2, "clip": true}, "encoding": {"x": {"field": "x", "type": "quantitative", "axis": null}, "y": {"field": "y", "type": "quantitative"}}},
     {"data": {"name": "b9"}, "mark": {"type": "rule", "color": "black", "strokeWidth": 1.8, "clip": true}, "encoding": {"x": {"field": "x", "type": "quantitative", "axis": {"orient": "top", "values": [5.2,5.3,5.4,5.5,5.6,5.7,5.8,5.9], "tickCount": 50, "labels": false, "title": null, "minExtent": 0, "maxExtent": 0}}, "x2": {"field": "x2"}, "y": {"field": "y", "type": "quantitative"}}},
     {"data": {"name": "m9"}, "mark": {"type": "rule", "color": "#ff33ff", "strokeWidth": 1.5, "clip": true}, "encoding": {"x": {"field": "mx", "type": "quantitative", "axis": null}, "x2": {"field": "mx2"}, "y": {"field": "my", "type": "quantitative"}}},
     {"data": {"name": "e9"}, "mark": {"type": "rule", "color": "black", "strokeWidth": 2, "clip": true}, "encoding": {"x": {"field": "x", "type": "quantitative", "axis": null}, "y": {"field": "lo", "type": "quantitative"}, "y2": {"field": "hi"}}},
     {"data": {"name": "e9"}, "mark": {"type": "circle", "color": "black", "size": 36, "opacity": 1, "clip": true}, "encoding": {"x": {"field": "x", "type": "quantitative", "axis": null}, "y": {"field": "y", "type": "quantitative"}}}
    ]},
    {"data": {"name": "m9"}, "mark": {"type": "text", "align": "left", "baseline": "top", "dy": 1, "fontSize": 7, "color": "#555555"}, "encoding": {"x": {"datum": 5.345, "type": "quantitative", "axis": {"orient": "bottom", "tickCount": 39, "tickSize": 3, "offset": -3, "labels": false, "title": null, "minExtent": 0, "maxExtent": 0}}, "y": {"datum": 36.7, "type": "quantitative", "scale": {"domain": [-3.38, 36.7], "nice": false, "zero": false}, "axis": {"orient": "left", "tickCount": 20, "tickSize": 3, "offset": -3, "labels": false, "title": null, "minExtent": 0, "maxExtent": 0}}, "text": {"field": "a1"}}},
    {"data": {"name": "m9"}, "mark": {"type": "text", "align": "left", "baseline": "top", "dy": 9, "fontSize": 7, "color": "#4d4dff"}, "encoding": {"x": {"datum": 5.345, "type": "quantitative", "axis": {"orient": "top", "tickCount": 39, "tickSize": 3, "offset": -3, "labels": false, "title": null, "minExtent": 0, "maxExtent": 0}}, "y": {"datum": 0.0266, "type": "quantitative", "scale": {"domain": [-0.00245, 0.0266], "nice": false, "zero": false}, "axis": {"orient": "right", "tickCount": 29, "tickSize": 3, "offset": -3, "labels": false, "title": null, "minExtent": 0, "maxExtent": 0}}, "text": {"field": "a2"}}}
   ]}
  ]}
 ]}
],
"spacing": 14
}
